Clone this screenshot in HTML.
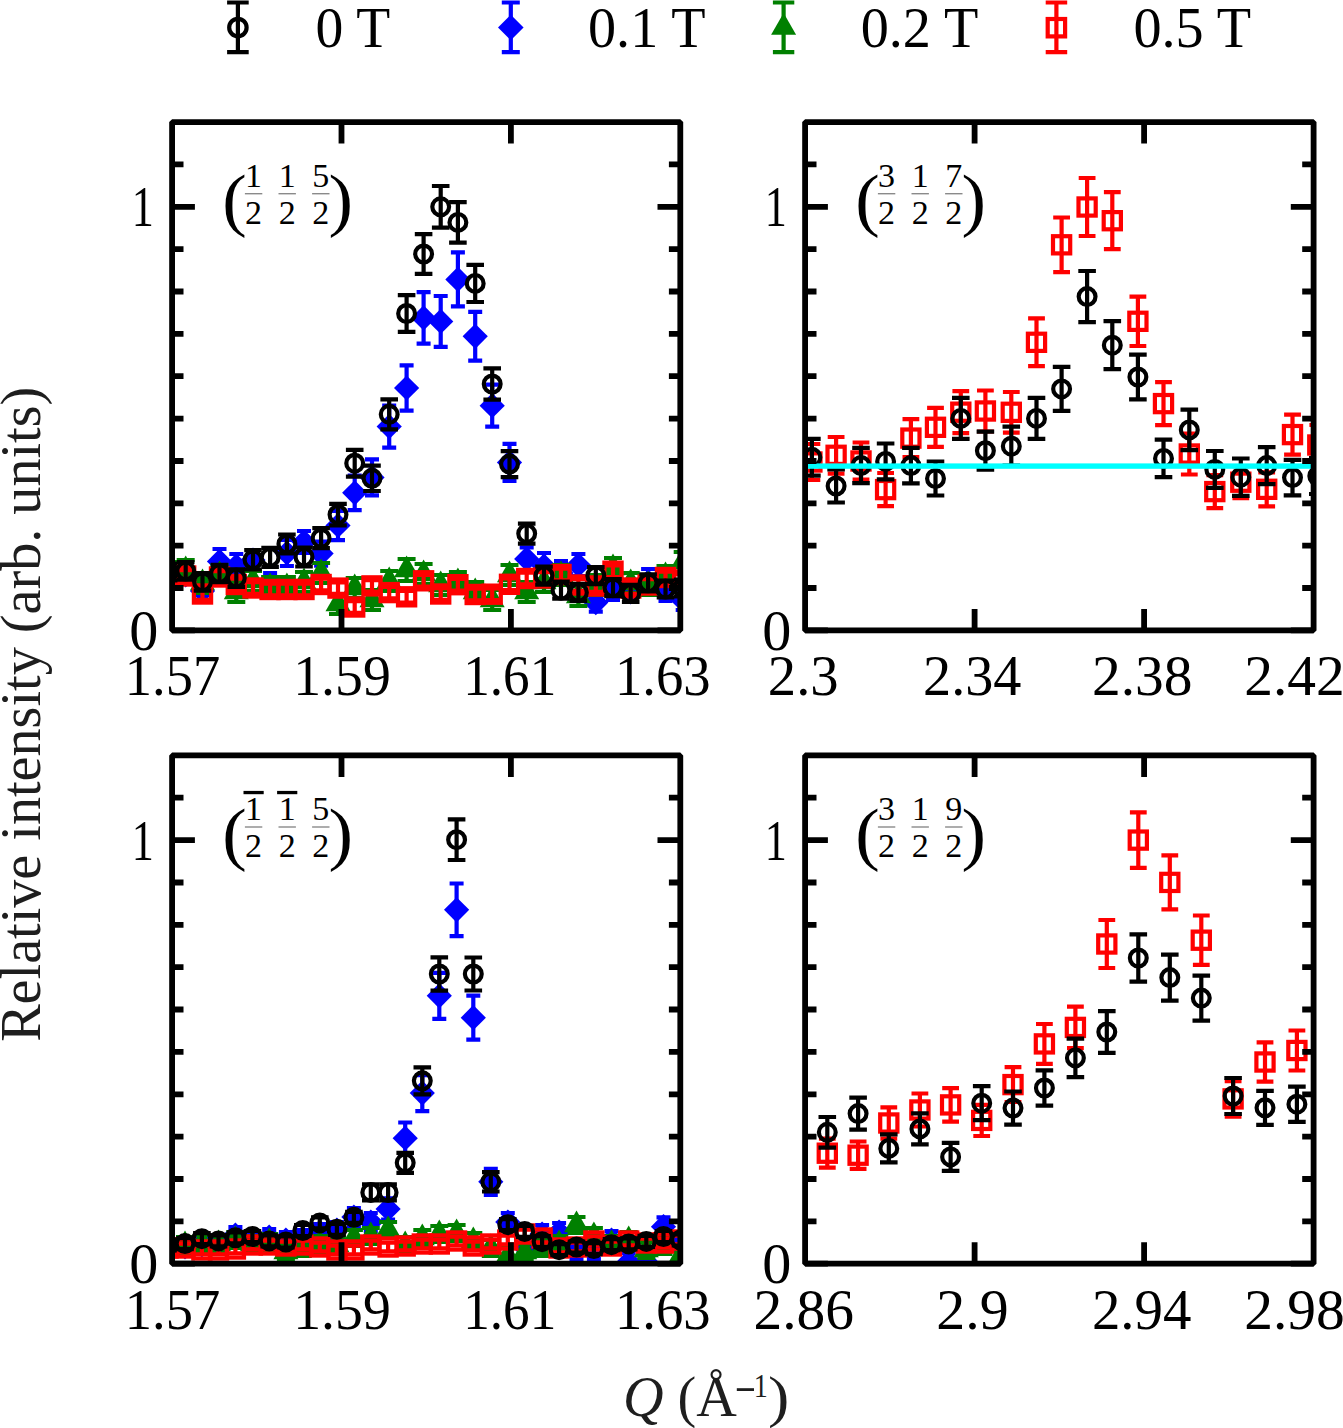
<!DOCTYPE html>
<html><head><meta charset="utf-8"><style>
html,body{margin:0;padding:0;background:#fff;overflow:hidden;}
svg{display:block;}
text{font-family:"Liberation Serif",serif;fill:#000;}
.tl{font-size:57px;}
.fr{font-size:34px;}
.par{font-size:70px;}
.ax{font-size:57px;fill:#1e1e1e;}
</style></head><body>
<svg width="1343" height="1428" viewBox="0 0 1343 1428">
<rect width="1343" height="1428" fill="#fff"/>

<clipPath id="cTL"><rect x="172.1" y="122.1" width="508.2" height="508.3"/></clipPath>
<g clip-path="url(#cTL)">
<path d="M168.6 566V584M161.6 566H175.6M161.6 584H175.6" stroke="#0000ff" stroke-width="4.2" fill="none"/>
<path d="M156 575L168.6 562.4L181.2 575L168.6 587.6Z" fill="#0000ff"/>
<path d="M185.7 566V584M178.7 566H192.7M178.7 584H192.7" stroke="#0000ff" stroke-width="4.2" fill="none"/>
<path d="M173.1 575L185.7 562.4L198.3 575L185.7 587.6Z" fill="#0000ff"/>
<path d="M202.5 582V600M195.5 582H209.5M195.5 600H209.5" stroke="#0000ff" stroke-width="4.2" fill="none"/>
<path d="M189.9 591L202.5 578.4L215.1 591L202.5 603.6Z" fill="#0000ff"/>
<path d="M219.5 549V573.8M212.5 549H226.5M212.5 573.8H226.5" stroke="#0000ff" stroke-width="4.2" fill="none"/>
<path d="M206.9 561.4L219.5 548.8L232.1 561.4L219.5 574Z" fill="#0000ff"/>
<path d="M236.3 554V578M229.3 554H243.3M229.3 578H243.3" stroke="#0000ff" stroke-width="4.2" fill="none"/>
<path d="M223.7 566L236.3 553.4L248.9 566L236.3 578.6Z" fill="#0000ff"/>
<path d="M253 550V570M246 550H260M246 570H260" stroke="#0000ff" stroke-width="4.2" fill="none"/>
<path d="M240.4 560L253 547.4L265.6 560L253 572.6Z" fill="#0000ff"/>
<path d="M270.1 573V597M263.1 573H277.1M263.1 597H277.1" stroke="#0000ff" stroke-width="4.2" fill="none"/>
<path d="M257.5 585L270.1 572.4L282.7 585L270.1 597.6Z" fill="#0000ff"/>
<path d="M286.9 540V566M279.9 540H293.9M279.9 566H293.9" stroke="#0000ff" stroke-width="4.2" fill="none"/>
<path d="M274.3 553L286.9 540.4L299.5 553L286.9 565.6Z" fill="#0000ff"/>
<path d="M304 531V553M297 531H311M297 553H311" stroke="#0000ff" stroke-width="4.2" fill="none"/>
<path d="M291.4 542L304 529.4L316.6 542L304 554.6Z" fill="#0000ff"/>
<path d="M321.1 541.6V565.6M314.1 541.6H328.1M314.1 565.6H328.1" stroke="#0000ff" stroke-width="4.2" fill="none"/>
<path d="M308.5 553.6L321.1 541L333.7 553.6L321.1 566.2Z" fill="#0000ff"/>
<path d="M338 510.8V540.2M331 510.8H345M331 540.2H345" stroke="#0000ff" stroke-width="4.2" fill="none"/>
<path d="M325.4 525.5L338 512.9L350.6 525.5L338 538.1Z" fill="#0000ff"/>
<path d="M354.7 475.5V510.1M347.7 475.5H361.7M347.7 510.1H361.7" stroke="#0000ff" stroke-width="4.2" fill="none"/>
<path d="M342.1 492.8L354.7 480.2L367.3 492.8L354.7 505.4Z" fill="#0000ff"/>
<path d="M372 459.4V495.4M365 459.4H379M365 495.4H379" stroke="#0000ff" stroke-width="4.2" fill="none"/>
<path d="M359.4 477.4L372 464.8L384.6 477.4L372 490Z" fill="#0000ff"/>
<path d="M389.2 405.6V447.6M382.2 405.6H396.2M382.2 447.6H396.2" stroke="#0000ff" stroke-width="4.2" fill="none"/>
<path d="M376.6 426.6L389.2 414L401.8 426.6L389.2 439.2Z" fill="#0000ff"/>
<path d="M406.6 365.4V410.6M399.6 365.4H413.6M399.6 410.6H413.6" stroke="#0000ff" stroke-width="4.2" fill="none"/>
<path d="M394 388L406.6 375.4L419.2 388L406.6 400.6Z" fill="#0000ff"/>
<path d="M423.6 292.1V343.7M416.6 292.1H430.6M416.6 343.7H430.6" stroke="#0000ff" stroke-width="4.2" fill="none"/>
<path d="M411 317.9L423.6 305.3L436.2 317.9L423.6 330.5Z" fill="#0000ff"/>
<path d="M440.7 296V346.8M433.7 296H447.7M433.7 346.8H447.7" stroke="#0000ff" stroke-width="4.2" fill="none"/>
<path d="M428.1 321.4L440.7 308.8L453.3 321.4L440.7 334Z" fill="#0000ff"/>
<path d="M457.9 252.4V306.4M450.9 252.4H464.9M450.9 306.4H464.9" stroke="#0000ff" stroke-width="4.2" fill="none"/>
<path d="M445.3 279.4L457.9 266.8L470.5 279.4L457.9 292Z" fill="#0000ff"/>
<path d="M475.2 311.9V360.7M468.2 311.9H482.2M468.2 360.7H482.2" stroke="#0000ff" stroke-width="4.2" fill="none"/>
<path d="M462.6 336.3L475.2 323.7L487.8 336.3L475.2 348.9Z" fill="#0000ff"/>
<path d="M492.2 384.7V426.7M485.2 384.7H499.2M485.2 426.7H499.2" stroke="#0000ff" stroke-width="4.2" fill="none"/>
<path d="M479.6 405.7L492.2 393.1L504.8 405.7L492.2 418.3Z" fill="#0000ff"/>
<path d="M509.5 443.9V480.9M502.5 443.9H516.5M502.5 480.9H516.5" stroke="#0000ff" stroke-width="4.2" fill="none"/>
<path d="M496.9 462.4L509.5 449.8L522.1 462.4L509.5 475Z" fill="#0000ff"/>
<path d="M526.7 547.4V570.4M519.7 547.4H533.7M519.7 570.4H533.7" stroke="#0000ff" stroke-width="4.2" fill="none"/>
<path d="M514.1 558.9L526.7 546.3L539.3 558.9L526.7 571.5Z" fill="#0000ff"/>
<path d="M544 553V579M537 553H551M537 579H551" stroke="#0000ff" stroke-width="4.2" fill="none"/>
<path d="M531.4 566L544 553.4L556.6 566L544 578.6Z" fill="#0000ff"/>
<path d="M561 561V585M554 561H568M554 585H568" stroke="#0000ff" stroke-width="4.2" fill="none"/>
<path d="M548.4 573L561 560.4L573.6 573L561 585.6Z" fill="#0000ff"/>
<path d="M578.4 554V576M571.4 554H585.4M571.4 576H585.4" stroke="#0000ff" stroke-width="4.2" fill="none"/>
<path d="M565.8 565L578.4 552.4L591 565L578.4 577.6Z" fill="#0000ff"/>
<path d="M595.8 593.6V611.6M588.8 593.6H602.8M588.8 611.6H602.8" stroke="#0000ff" stroke-width="4.2" fill="none"/>
<path d="M583.2 602.6L595.8 590L608.4 602.6L595.8 615.2Z" fill="#0000ff"/>
<path d="M613 576V600M606 576H620M606 600H620" stroke="#0000ff" stroke-width="4.2" fill="none"/>
<path d="M600.4 588L613 575.4L625.6 588L613 600.6Z" fill="#0000ff"/>
<path d="M630.7 582V602M623.7 582H637.7M623.7 602H637.7" stroke="#0000ff" stroke-width="4.2" fill="none"/>
<path d="M618.1 592L630.7 579.4L643.3 592L630.7 604.6Z" fill="#0000ff"/>
<path d="M648.1 569V595M641.1 569H655.1M641.1 595H655.1" stroke="#0000ff" stroke-width="4.2" fill="none"/>
<path d="M635.5 582L648.1 569.4L660.7 582L648.1 594.6Z" fill="#0000ff"/>
<path d="M665.5 579V601M658.5 579H672.5M658.5 601H672.5" stroke="#0000ff" stroke-width="4.2" fill="none"/>
<path d="M652.9 590L665.5 577.4L678.1 590L665.5 602.6Z" fill="#0000ff"/>
<path d="M682.7 590V610M675.7 590H689.7M675.7 610H689.7" stroke="#0000ff" stroke-width="4.2" fill="none"/>
<path d="M670.1 600L682.7 587.4L695.3 600L682.7 612.6Z" fill="#0000ff"/>
<path d="M168.6 562V582M159.6 562H177.6M159.6 582H177.6" stroke="#008000" stroke-width="4.2" fill="none"/>
<path d="M156.1 579.2L168.6 557.6L181.1 579.2Z" fill="#008000"/>
<path d="M185.7 560V580M176.7 560H194.7M176.7 580H194.7" stroke="#008000" stroke-width="4.2" fill="none"/>
<path d="M173.2 577.2L185.7 555.6L198.2 577.2Z" fill="#008000"/>
<path d="M202.5 573V593M193.5 573H211.5M193.5 593H211.5" stroke="#008000" stroke-width="4.2" fill="none"/>
<path d="M190 590.2L202.5 568.6L215 590.2Z" fill="#008000"/>
<path d="M219.5 565V585M210.5 565H228.5M210.5 585H228.5" stroke="#008000" stroke-width="4.2" fill="none"/>
<path d="M207 582.2L219.5 560.6L232 582.2Z" fill="#008000"/>
<path d="M236.3 582V602M227.3 582H245.3M227.3 602H245.3" stroke="#008000" stroke-width="4.2" fill="none"/>
<path d="M223.8 599.2L236.3 577.6L248.8 599.2Z" fill="#008000"/>
<path d="M253 571V591M244 571H262M244 591H262" stroke="#008000" stroke-width="4.2" fill="none"/>
<path d="M240.5 588.2L253 566.6L265.5 588.2Z" fill="#008000"/>
<path d="M270.1 577V597M261.1 577H279.1M261.1 597H279.1" stroke="#008000" stroke-width="4.2" fill="none"/>
<path d="M257.6 594.2L270.1 572.6L282.6 594.2Z" fill="#008000"/>
<path d="M286.9 577V597M277.9 577H295.9M277.9 597H295.9" stroke="#008000" stroke-width="4.2" fill="none"/>
<path d="M274.4 594.2L286.9 572.6L299.4 594.2Z" fill="#008000"/>
<path d="M304 572V592M295 572H313M295 592H313" stroke="#008000" stroke-width="4.2" fill="none"/>
<path d="M291.5 589.2L304 567.6L316.5 589.2Z" fill="#008000"/>
<path d="M321.1 563V583M312.1 563H330.1M312.1 583H330.1" stroke="#008000" stroke-width="4.2" fill="none"/>
<path d="M308.6 580.2L321.1 558.6L333.6 580.2Z" fill="#008000"/>
<path d="M338 594V614M329 594H347M329 614H347" stroke="#008000" stroke-width="4.2" fill="none"/>
<path d="M325.5 611.2L338 589.6L350.5 611.2Z" fill="#008000"/>
<path d="M354.7 578V598M345.7 578H363.7M345.7 598H363.7" stroke="#008000" stroke-width="4.2" fill="none"/>
<path d="M342.2 595.2L354.7 573.6L367.2 595.2Z" fill="#008000"/>
<path d="M372 590V610M363 590H381M363 610H381" stroke="#008000" stroke-width="4.2" fill="none"/>
<path d="M359.5 607.2L372 585.6L384.5 607.2Z" fill="#008000"/>
<path d="M389.2 571V591M380.2 571H398.2M380.2 591H398.2" stroke="#008000" stroke-width="4.2" fill="none"/>
<path d="M376.7 588.2L389.2 566.6L401.7 588.2Z" fill="#008000"/>
<path d="M406.6 559V581M397.6 559H415.6M397.6 581H415.6" stroke="#008000" stroke-width="4.2" fill="none"/>
<path d="M394.1 577.2L406.6 555.6L419.1 577.2Z" fill="#008000"/>
<path d="M423.6 564V584M414.6 564H432.6M414.6 584H432.6" stroke="#008000" stroke-width="4.2" fill="none"/>
<path d="M411.1 581.2L423.6 559.6L436.1 581.2Z" fill="#008000"/>
<path d="M440.7 575V595M431.7 575H449.7M431.7 595H449.7" stroke="#008000" stroke-width="4.2" fill="none"/>
<path d="M428.2 592.2L440.7 570.6L453.2 592.2Z" fill="#008000"/>
<path d="M457.9 572V592M448.9 572H466.9M448.9 592H466.9" stroke="#008000" stroke-width="4.2" fill="none"/>
<path d="M445.4 589.2L457.9 567.6L470.4 589.2Z" fill="#008000"/>
<path d="M475.2 582V602M466.2 582H484.2M466.2 602H484.2" stroke="#008000" stroke-width="4.2" fill="none"/>
<path d="M462.7 599.2L475.2 577.6L487.7 599.2Z" fill="#008000"/>
<path d="M492.2 590V610M483.2 590H501.2M483.2 610H501.2" stroke="#008000" stroke-width="4.2" fill="none"/>
<path d="M479.7 607.2L492.2 585.6L504.7 607.2Z" fill="#008000"/>
<path d="M509.5 565V585M500.5 565H518.5M500.5 585H518.5" stroke="#008000" stroke-width="4.2" fill="none"/>
<path d="M497 582.2L509.5 560.6L522 582.2Z" fill="#008000"/>
<path d="M526.7 582V602M517.7 582H535.7M517.7 602H535.7" stroke="#008000" stroke-width="4.2" fill="none"/>
<path d="M514.2 599.2L526.7 577.6L539.2 599.2Z" fill="#008000"/>
<path d="M544 572V592M535 572H553M535 592H553" stroke="#008000" stroke-width="4.2" fill="none"/>
<path d="M531.5 589.2L544 567.6L556.5 589.2Z" fill="#008000"/>
<path d="M561 565V585M552 565H570M552 585H570" stroke="#008000" stroke-width="4.2" fill="none"/>
<path d="M548.5 582.2L561 560.6L573.5 582.2Z" fill="#008000"/>
<path d="M578.4 586V606M569.4 586H587.4M569.4 606H587.4" stroke="#008000" stroke-width="4.2" fill="none"/>
<path d="M565.9 603.2L578.4 581.6L590.9 603.2Z" fill="#008000"/>
<path d="M595.8 575V595M586.8 575H604.8M586.8 595H604.8" stroke="#008000" stroke-width="4.2" fill="none"/>
<path d="M583.3 592.2L595.8 570.6L608.3 592.2Z" fill="#008000"/>
<path d="M613 558V578M604 558H622M604 578H622" stroke="#008000" stroke-width="4.2" fill="none"/>
<path d="M600.5 575.2L613 553.6L625.5 575.2Z" fill="#008000"/>
<path d="M630.7 573V593M621.7 573H639.7M621.7 593H639.7" stroke="#008000" stroke-width="4.2" fill="none"/>
<path d="M618.2 590.2L630.7 568.6L643.2 590.2Z" fill="#008000"/>
<path d="M648.1 575V595M639.1 575H657.1M639.1 595H657.1" stroke="#008000" stroke-width="4.2" fill="none"/>
<path d="M635.6 592.2L648.1 570.6L660.6 592.2Z" fill="#008000"/>
<path d="M665.5 566V586M656.5 566H674.5M656.5 586H674.5" stroke="#008000" stroke-width="4.2" fill="none"/>
<path d="M653 583.2L665.5 561.6L678 583.2Z" fill="#008000"/>
<path d="M682.7 552V572M673.7 552H691.7M673.7 572H691.7" stroke="#008000" stroke-width="4.2" fill="none"/>
<path d="M670.2 569.2L682.7 547.6L695.2 569.2Z" fill="#008000"/>
<path d="M168.6 569.2V580.8M160.2 569.2H177M160.2 580.8H177" stroke="#ff0000" stroke-width="4.2" fill="none"/>
<rect x="160" y="566.4" width="17.2" height="17.2" fill="none" stroke="#ff0000" stroke-width="4.2"/>
<path d="M185.7 570.2V581.8M177.3 570.2H194.1M177.3 581.8H194.1" stroke="#ff0000" stroke-width="4.2" fill="none"/>
<rect x="177.1" y="567.4" width="17.2" height="17.2" fill="none" stroke="#ff0000" stroke-width="4.2"/>
<path d="M202.5 588.2V599.8M194.1 588.2H210.9M194.1 599.8H210.9" stroke="#ff0000" stroke-width="4.2" fill="none"/>
<rect x="193.9" y="585.4" width="17.2" height="17.2" fill="none" stroke="#ff0000" stroke-width="4.2"/>
<path d="M219.5 571.2V582.8M211.1 571.2H227.9M211.1 582.8H227.9" stroke="#ff0000" stroke-width="4.2" fill="none"/>
<rect x="210.9" y="568.4" width="17.2" height="17.2" fill="none" stroke="#ff0000" stroke-width="4.2"/>
<path d="M236.3 578.7V590.3M227.9 578.7H244.7M227.9 590.3H244.7" stroke="#ff0000" stroke-width="4.2" fill="none"/>
<rect x="227.7" y="575.9" width="17.2" height="17.2" fill="none" stroke="#ff0000" stroke-width="4.2"/>
<path d="M253 582.2V593.8M244.6 582.2H261.4M244.6 593.8H261.4" stroke="#ff0000" stroke-width="4.2" fill="none"/>
<rect x="244.4" y="579.4" width="17.2" height="17.2" fill="none" stroke="#ff0000" stroke-width="4.2"/>
<path d="M270.1 583.7V595.3M261.7 583.7H278.5M261.7 595.3H278.5" stroke="#ff0000" stroke-width="4.2" fill="none"/>
<rect x="261.5" y="580.9" width="17.2" height="17.2" fill="none" stroke="#ff0000" stroke-width="4.2"/>
<path d="M286.9 583.7V595.3M278.5 583.7H295.3M278.5 595.3H295.3" stroke="#ff0000" stroke-width="4.2" fill="none"/>
<rect x="278.3" y="580.9" width="17.2" height="17.2" fill="none" stroke="#ff0000" stroke-width="4.2"/>
<path d="M304 583.7V595.3M295.6 583.7H312.4M295.6 595.3H312.4" stroke="#ff0000" stroke-width="4.2" fill="none"/>
<rect x="295.4" y="580.9" width="17.2" height="17.2" fill="none" stroke="#ff0000" stroke-width="4.2"/>
<path d="M321.1 578.7V590.3M312.7 578.7H329.5M312.7 590.3H329.5" stroke="#ff0000" stroke-width="4.2" fill="none"/>
<rect x="312.5" y="575.9" width="17.2" height="17.2" fill="none" stroke="#ff0000" stroke-width="4.2"/>
<path d="M338 582.3V593.9M329.6 582.3H346.4M329.6 593.9H346.4" stroke="#ff0000" stroke-width="4.2" fill="none"/>
<rect x="329.4" y="579.5" width="17.2" height="17.2" fill="none" stroke="#ff0000" stroke-width="4.2"/>
<path d="M354.7 601.2V612.8M346.3 601.2H363.1M346.3 612.8H363.1" stroke="#ff0000" stroke-width="4.2" fill="none"/>
<rect x="346.1" y="598.4" width="17.2" height="17.2" fill="none" stroke="#ff0000" stroke-width="4.2"/>
<path d="M372 580.1V591.7M363.6 580.1H380.4M363.6 591.7H380.4" stroke="#ff0000" stroke-width="4.2" fill="none"/>
<rect x="363.4" y="577.3" width="17.2" height="17.2" fill="none" stroke="#ff0000" stroke-width="4.2"/>
<path d="M389.2 586.8V598.4M380.8 586.8H397.6M380.8 598.4H397.6" stroke="#ff0000" stroke-width="4.2" fill="none"/>
<rect x="380.6" y="584" width="17.2" height="17.2" fill="none" stroke="#ff0000" stroke-width="4.2"/>
<path d="M406.6 591V602.6M398.2 591H415M398.2 602.6H415" stroke="#ff0000" stroke-width="4.2" fill="none"/>
<rect x="398" y="588.2" width="17.2" height="17.2" fill="none" stroke="#ff0000" stroke-width="4.2"/>
<path d="M423.6 575V586.6M415.2 575H432M415.2 586.6H432" stroke="#ff0000" stroke-width="4.2" fill="none"/>
<rect x="415" y="572.2" width="17.2" height="17.2" fill="none" stroke="#ff0000" stroke-width="4.2"/>
<path d="M440.7 588.2V599.8M432.3 588.2H449.1M432.3 599.8H449.1" stroke="#ff0000" stroke-width="4.2" fill="none"/>
<rect x="432.1" y="585.4" width="17.2" height="17.2" fill="none" stroke="#ff0000" stroke-width="4.2"/>
<path d="M457.9 578.9V590.5M449.5 578.9H466.3M449.5 590.5H466.3" stroke="#ff0000" stroke-width="4.2" fill="none"/>
<rect x="449.3" y="576.1" width="17.2" height="17.2" fill="none" stroke="#ff0000" stroke-width="4.2"/>
<path d="M475.2 588.7V600.3M466.8 588.7H483.6M466.8 600.3H483.6" stroke="#ff0000" stroke-width="4.2" fill="none"/>
<rect x="466.6" y="585.9" width="17.2" height="17.2" fill="none" stroke="#ff0000" stroke-width="4.2"/>
<path d="M492.2 588.4V600M483.8 588.4H500.6M483.8 600H500.6" stroke="#ff0000" stroke-width="4.2" fill="none"/>
<rect x="483.6" y="585.6" width="17.2" height="17.2" fill="none" stroke="#ff0000" stroke-width="4.2"/>
<path d="M509.5 578.5V590.1M501.1 578.5H517.9M501.1 590.1H517.9" stroke="#ff0000" stroke-width="4.2" fill="none"/>
<rect x="500.9" y="575.7" width="17.2" height="17.2" fill="none" stroke="#ff0000" stroke-width="4.2"/>
<path d="M526.7 572.7V584.3M518.3 572.7H535.1M518.3 584.3H535.1" stroke="#ff0000" stroke-width="4.2" fill="none"/>
<rect x="518.1" y="569.9" width="17.2" height="17.2" fill="none" stroke="#ff0000" stroke-width="4.2"/>
<path d="M544 572.2V583.8M535.6 572.2H552.4M535.6 583.8H552.4" stroke="#ff0000" stroke-width="4.2" fill="none"/>
<rect x="535.4" y="569.4" width="17.2" height="17.2" fill="none" stroke="#ff0000" stroke-width="4.2"/>
<path d="M561 568.7V580.3M552.6 568.7H569.4M552.6 580.3H569.4" stroke="#ff0000" stroke-width="4.2" fill="none"/>
<rect x="552.4" y="565.9" width="17.2" height="17.2" fill="none" stroke="#ff0000" stroke-width="4.2"/>
<path d="M578.4 579.2V590.8M570 579.2H586.8M570 590.8H586.8" stroke="#ff0000" stroke-width="4.2" fill="none"/>
<rect x="569.8" y="576.4" width="17.2" height="17.2" fill="none" stroke="#ff0000" stroke-width="4.2"/>
<path d="M595.8 580.2V591.8M587.4 580.2H604.2M587.4 591.8H604.2" stroke="#ff0000" stroke-width="4.2" fill="none"/>
<rect x="587.2" y="577.4" width="17.2" height="17.2" fill="none" stroke="#ff0000" stroke-width="4.2"/>
<path d="M613 565.4V577M604.6 565.4H621.4M604.6 577H621.4" stroke="#ff0000" stroke-width="4.2" fill="none"/>
<rect x="604.4" y="562.6" width="17.2" height="17.2" fill="none" stroke="#ff0000" stroke-width="4.2"/>
<path d="M630.7 582.2V593.8M622.3 582.2H639.1M622.3 593.8H639.1" stroke="#ff0000" stroke-width="4.2" fill="none"/>
<rect x="622.1" y="579.4" width="17.2" height="17.2" fill="none" stroke="#ff0000" stroke-width="4.2"/>
<path d="M648.1 579.2V590.8M639.7 579.2H656.5M639.7 590.8H656.5" stroke="#ff0000" stroke-width="4.2" fill="none"/>
<rect x="639.5" y="576.4" width="17.2" height="17.2" fill="none" stroke="#ff0000" stroke-width="4.2"/>
<path d="M665.5 571.7V583.3M657.1 571.7H673.9M657.1 583.3H673.9" stroke="#ff0000" stroke-width="4.2" fill="none"/>
<rect x="656.9" y="568.9" width="17.2" height="17.2" fill="none" stroke="#ff0000" stroke-width="4.2"/>
<path d="M682.7 574.2V585.8M674.3 574.2H691.1M674.3 585.8H691.1" stroke="#ff0000" stroke-width="4.2" fill="none"/>
<rect x="674.1" y="571.4" width="17.2" height="17.2" fill="none" stroke="#ff0000" stroke-width="4.2"/>
<path d="M168.6 563.5V580.5M159.8 563.5H177.4M159.8 580.5H177.4" stroke="#000000" stroke-width="4.2" fill="none"/>
<circle cx="168.6" cy="572" r="8.4" fill="none" stroke="#000000" stroke-width="4.2"/>
<path d="M185.7 562.1V579.7M176.9 562.1H194.5M176.9 579.7H194.5" stroke="#000000" stroke-width="4.2" fill="none"/>
<circle cx="185.7" cy="570.9" r="8.4" fill="none" stroke="#000000" stroke-width="4.2"/>
<path d="M202.5 573V590.6M193.7 573H211.3M193.7 590.6H211.3" stroke="#000000" stroke-width="4.2" fill="none"/>
<circle cx="202.5" cy="581.8" r="8.4" fill="none" stroke="#000000" stroke-width="4.2"/>
<path d="M219.5 564.8V582.2M210.7 564.8H228.3M210.7 582.2H228.3" stroke="#000000" stroke-width="4.2" fill="none"/>
<circle cx="219.5" cy="573.5" r="8.4" fill="none" stroke="#000000" stroke-width="4.2"/>
<path d="M236.3 569.3V586.9M227.5 569.3H245.1M227.5 586.9H245.1" stroke="#000000" stroke-width="4.2" fill="none"/>
<circle cx="236.3" cy="578.1" r="8.4" fill="none" stroke="#000000" stroke-width="4.2"/>
<path d="M253 550.1V569.5M244.2 550.1H261.8M244.2 569.5H261.8" stroke="#000000" stroke-width="4.2" fill="none"/>
<circle cx="253" cy="559.8" r="8.4" fill="none" stroke="#000000" stroke-width="4.2"/>
<path d="M270.1 547.9V566.9M261.3 547.9H278.9M261.3 566.9H278.9" stroke="#000000" stroke-width="4.2" fill="none"/>
<circle cx="270.1" cy="557.4" r="8.4" fill="none" stroke="#000000" stroke-width="4.2"/>
<path d="M286.9 534.5V553.5M278.1 534.5H295.7M278.1 553.5H295.7" stroke="#000000" stroke-width="4.2" fill="none"/>
<circle cx="286.9" cy="544" r="8.4" fill="none" stroke="#000000" stroke-width="4.2"/>
<path d="M304 547.5V566.5M295.2 547.5H312.8M295.2 566.5H312.8" stroke="#000000" stroke-width="4.2" fill="none"/>
<circle cx="304" cy="557" r="8.4" fill="none" stroke="#000000" stroke-width="4.2"/>
<path d="M321.1 528.2V548.2M312.3 528.2H329.9M312.3 548.2H329.9" stroke="#000000" stroke-width="4.2" fill="none"/>
<circle cx="321.1" cy="538.2" r="8.4" fill="none" stroke="#000000" stroke-width="4.2"/>
<path d="M338 503.9V525.3M329.2 503.9H346.8M329.2 525.3H346.8" stroke="#000000" stroke-width="4.2" fill="none"/>
<circle cx="338" cy="514.6" r="8.4" fill="none" stroke="#000000" stroke-width="4.2"/>
<path d="M354.7 449.8V476.6M345.9 449.8H363.5M345.9 476.6H363.5" stroke="#000000" stroke-width="4.2" fill="none"/>
<circle cx="354.7" cy="463.2" r="8.4" fill="none" stroke="#000000" stroke-width="4.2"/>
<path d="M372 465.6V491M363.2 465.6H380.8M363.2 491H380.8" stroke="#000000" stroke-width="4.2" fill="none"/>
<circle cx="372" cy="478.3" r="8.4" fill="none" stroke="#000000" stroke-width="4.2"/>
<path d="M389.2 399.3V429.3M380.4 399.3H398M380.4 429.3H398" stroke="#000000" stroke-width="4.2" fill="none"/>
<circle cx="389.2" cy="414.3" r="8.4" fill="none" stroke="#000000" stroke-width="4.2"/>
<path d="M406.6 295.1V331.9M397.8 295.1H415.4M397.8 331.9H415.4" stroke="#000000" stroke-width="4.2" fill="none"/>
<circle cx="406.6" cy="313.5" r="8.4" fill="none" stroke="#000000" stroke-width="4.2"/>
<path d="M423.6 234.1V273.9M414.8 234.1H432.4M414.8 273.9H432.4" stroke="#000000" stroke-width="4.2" fill="none"/>
<circle cx="423.6" cy="254" r="8.4" fill="none" stroke="#000000" stroke-width="4.2"/>
<path d="M440.7 186V227.6M431.9 186H449.5M431.9 227.6H449.5" stroke="#000000" stroke-width="4.2" fill="none"/>
<circle cx="440.7" cy="206.8" r="8.4" fill="none" stroke="#000000" stroke-width="4.2"/>
<path d="M457.9 202.1V242.7M449.1 202.1H466.7M449.1 242.7H466.7" stroke="#000000" stroke-width="4.2" fill="none"/>
<circle cx="457.9" cy="222.4" r="8.4" fill="none" stroke="#000000" stroke-width="4.2"/>
<path d="M475.2 264.8V302M466.4 264.8H484M466.4 302H484" stroke="#000000" stroke-width="4.2" fill="none"/>
<circle cx="475.2" cy="283.4" r="8.4" fill="none" stroke="#000000" stroke-width="4.2"/>
<path d="M492.2 368.3V399.7M483.4 368.3H501M483.4 399.7H501" stroke="#000000" stroke-width="4.2" fill="none"/>
<circle cx="492.2" cy="384" r="8.4" fill="none" stroke="#000000" stroke-width="4.2"/>
<path d="M509.5 451.1V477.1M500.7 451.1H518.3M500.7 477.1H518.3" stroke="#000000" stroke-width="4.2" fill="none"/>
<circle cx="509.5" cy="464.1" r="8.4" fill="none" stroke="#000000" stroke-width="4.2"/>
<path d="M526.7 523.6V543.6M517.9 523.6H535.5M517.9 543.6H535.5" stroke="#000000" stroke-width="4.2" fill="none"/>
<circle cx="526.7" cy="533.6" r="8.4" fill="none" stroke="#000000" stroke-width="4.2"/>
<path d="M544 566.6V584.6M535.2 566.6H552.8M535.2 584.6H552.8" stroke="#000000" stroke-width="4.2" fill="none"/>
<circle cx="544" cy="575.6" r="8.4" fill="none" stroke="#000000" stroke-width="4.2"/>
<path d="M561 581.7V598.7M552.2 581.7H569.8M552.2 598.7H569.8" stroke="#000000" stroke-width="4.2" fill="none"/>
<circle cx="561" cy="590.2" r="8.4" fill="none" stroke="#000000" stroke-width="4.2"/>
<path d="M578.4 583.9V600.9M569.6 583.9H587.2M569.6 600.9H587.2" stroke="#000000" stroke-width="4.2" fill="none"/>
<circle cx="578.4" cy="592.4" r="8.4" fill="none" stroke="#000000" stroke-width="4.2"/>
<path d="M595.8 567.2V584.2M587 567.2H604.6M587 584.2H604.6" stroke="#000000" stroke-width="4.2" fill="none"/>
<circle cx="595.8" cy="575.7" r="8.4" fill="none" stroke="#000000" stroke-width="4.2"/>
<path d="M613 579.2V596.2M604.2 579.2H621.8M604.2 596.2H621.8" stroke="#000000" stroke-width="4.2" fill="none"/>
<circle cx="613" cy="587.7" r="8.4" fill="none" stroke="#000000" stroke-width="4.2"/>
<path d="M630.7 584.9V601.9M621.9 584.9H639.5M621.9 601.9H639.5" stroke="#000000" stroke-width="4.2" fill="none"/>
<circle cx="630.7" cy="593.4" r="8.4" fill="none" stroke="#000000" stroke-width="4.2"/>
<path d="M648.1 574.3V591.3M639.3 574.3H656.9M639.3 591.3H656.9" stroke="#000000" stroke-width="4.2" fill="none"/>
<circle cx="648.1" cy="582.8" r="8.4" fill="none" stroke="#000000" stroke-width="4.2"/>
<path d="M665.5 580.5V597.5M656.7 580.5H674.3M656.7 597.5H674.3" stroke="#000000" stroke-width="4.2" fill="none"/>
<circle cx="665.5" cy="589" r="8.4" fill="none" stroke="#000000" stroke-width="4.2"/>
<path d="M682.7 579.5V596.5M673.9 579.5H691.5M673.9 596.5H691.5" stroke="#000000" stroke-width="4.2" fill="none"/>
<circle cx="682.7" cy="588" r="8.4" fill="none" stroke="#000000" stroke-width="4.2"/>
</g>
<path d="M341.5 630.4V608.9M341.5 122.1V143.6M510.9 630.4V608.9M510.9 122.1V143.6M172.1 630.4H194.9M680.3 630.4H657.5M172.1 206.8H194.9M680.3 206.8H657.5M172.1 588H183.5M680.3 588H668.9M172.1 545.7H183.5M680.3 545.7H668.9M172.1 503.3H183.5M680.3 503.3H668.9M172.1 461H183.5M680.3 461H668.9M172.1 418.6H183.5M680.3 418.6H668.9M172.1 376.2H183.5M680.3 376.2H668.9M172.1 333.9H183.5M680.3 333.9H668.9M172.1 291.5H183.5M680.3 291.5H668.9M172.1 249.2H183.5M680.3 249.2H668.9M172.1 164.4H183.5M680.3 164.4H668.9" stroke="#000" stroke-width="5.8" fill="none"/>
<rect x="172.1" y="122.1" width="508.2" height="508.3" fill="none" stroke="#000" stroke-width="5.8" stroke-linejoin="bevel"/>

<clipPath id="cTR"><rect x="805.1" y="122.1" width="508.5" height="508.3"/></clipPath>
<g clip-path="url(#cTR)">
<path d="M811.9 444V480M803.5 444H820.3M803.5 480H820.3" stroke="#ff0000" stroke-width="4.2" fill="none"/>
<rect x="803.3" y="453.4" width="17.2" height="17.2" fill="none" stroke="#ff0000" stroke-width="4.2"/>
<path d="M836.1 437V473.6M827.7 437H844.5M827.7 473.6H844.5" stroke="#ff0000" stroke-width="4.2" fill="none"/>
<rect x="827.5" y="446.7" width="17.2" height="17.2" fill="none" stroke="#ff0000" stroke-width="4.2"/>
<path d="M861 442.5V479.5M852.6 442.5H869.4M852.6 479.5H869.4" stroke="#ff0000" stroke-width="4.2" fill="none"/>
<rect x="852.4" y="452.4" width="17.2" height="17.2" fill="none" stroke="#ff0000" stroke-width="4.2"/>
<path d="M885.6 473V506.2M877.2 473H894M877.2 506.2H894" stroke="#ff0000" stroke-width="4.2" fill="none"/>
<rect x="877" y="481" width="17.2" height="17.2" fill="none" stroke="#ff0000" stroke-width="4.2"/>
<path d="M910.9 419.1V457.1M902.5 419.1H919.3M902.5 457.1H919.3" stroke="#ff0000" stroke-width="4.2" fill="none"/>
<rect x="902.3" y="429.5" width="17.2" height="17.2" fill="none" stroke="#ff0000" stroke-width="4.2"/>
<path d="M935.5 407.8V446.8M927.1 407.8H943.9M927.1 446.8H943.9" stroke="#ff0000" stroke-width="4.2" fill="none"/>
<rect x="926.9" y="418.7" width="17.2" height="17.2" fill="none" stroke="#ff0000" stroke-width="4.2"/>
<path d="M960.8 391.2V433.2M952.4 391.2H969.2M952.4 433.2H969.2" stroke="#ff0000" stroke-width="4.2" fill="none"/>
<rect x="952.2" y="403.6" width="17.2" height="17.2" fill="none" stroke="#ff0000" stroke-width="4.2"/>
<path d="M985.4 390.5V431.5M977 390.5H993.8M977 431.5H993.8" stroke="#ff0000" stroke-width="4.2" fill="none"/>
<rect x="976.8" y="402.4" width="17.2" height="17.2" fill="none" stroke="#ff0000" stroke-width="4.2"/>
<path d="M1011.3 392V432.6M1002.9 392H1019.7M1002.9 432.6H1019.7" stroke="#ff0000" stroke-width="4.2" fill="none"/>
<rect x="1002.7" y="403.7" width="17.2" height="17.2" fill="none" stroke="#ff0000" stroke-width="4.2"/>
<path d="M1036.5 318.4V366.2M1028.1 318.4H1044.9M1028.1 366.2H1044.9" stroke="#ff0000" stroke-width="4.2" fill="none"/>
<rect x="1027.9" y="333.7" width="17.2" height="17.2" fill="none" stroke="#ff0000" stroke-width="4.2"/>
<path d="M1061.6 217.5V272.1M1053.2 217.5H1070M1053.2 272.1H1070" stroke="#ff0000" stroke-width="4.2" fill="none"/>
<rect x="1053" y="236.2" width="17.2" height="17.2" fill="none" stroke="#ff0000" stroke-width="4.2"/>
<path d="M1087.1 178V236M1078.7 178H1095.5M1078.7 236H1095.5" stroke="#ff0000" stroke-width="4.2" fill="none"/>
<rect x="1078.5" y="198.4" width="17.2" height="17.2" fill="none" stroke="#ff0000" stroke-width="4.2"/>
<path d="M1112.3 192.2V249.2M1103.9 192.2H1120.7M1103.9 249.2H1120.7" stroke="#ff0000" stroke-width="4.2" fill="none"/>
<rect x="1103.7" y="212.1" width="17.2" height="17.2" fill="none" stroke="#ff0000" stroke-width="4.2"/>
<path d="M1137.9 296.6V346M1129.5 296.6H1146.3M1129.5 346H1146.3" stroke="#ff0000" stroke-width="4.2" fill="none"/>
<rect x="1129.3" y="312.7" width="17.2" height="17.2" fill="none" stroke="#ff0000" stroke-width="4.2"/>
<path d="M1163.5 382.1V425.1M1155.1 382.1H1171.9M1155.1 425.1H1171.9" stroke="#ff0000" stroke-width="4.2" fill="none"/>
<rect x="1154.9" y="395" width="17.2" height="17.2" fill="none" stroke="#ff0000" stroke-width="4.2"/>
<path d="M1189.3 433.5V474.5M1180.9 433.5H1197.7M1180.9 474.5H1197.7" stroke="#ff0000" stroke-width="4.2" fill="none"/>
<rect x="1180.7" y="445.4" width="17.2" height="17.2" fill="none" stroke="#ff0000" stroke-width="4.2"/>
<path d="M1214.8 475.1V508.1M1206.4 475.1H1223.2M1206.4 508.1H1223.2" stroke="#ff0000" stroke-width="4.2" fill="none"/>
<rect x="1206.2" y="483" width="17.2" height="17.2" fill="none" stroke="#ff0000" stroke-width="4.2"/>
<path d="M1240.8 466.2V498.2M1232.4 466.2H1249.2M1232.4 498.2H1249.2" stroke="#ff0000" stroke-width="4.2" fill="none"/>
<rect x="1232.2" y="473.6" width="17.2" height="17.2" fill="none" stroke="#ff0000" stroke-width="4.2"/>
<path d="M1266.7 472.3V506.3M1258.3 472.3H1275.1M1258.3 506.3H1275.1" stroke="#ff0000" stroke-width="4.2" fill="none"/>
<rect x="1258.1" y="480.7" width="17.2" height="17.2" fill="none" stroke="#ff0000" stroke-width="4.2"/>
<path d="M1292.5 414.6V454.6M1284.1 414.6H1300.9M1284.1 454.6H1300.9" stroke="#ff0000" stroke-width="4.2" fill="none"/>
<rect x="1283.9" y="426" width="17.2" height="17.2" fill="none" stroke="#ff0000" stroke-width="4.2"/>
<path d="M1317.8 425V465M1309.4 425H1326.2M1309.4 465H1326.2" stroke="#ff0000" stroke-width="4.2" fill="none"/>
<rect x="1309.2" y="436.4" width="17.2" height="17.2" fill="none" stroke="#ff0000" stroke-width="4.2"/>
<path d="M811.9 438.9V475.7M803.1 438.9H820.7M803.1 475.7H820.7" stroke="#000000" stroke-width="4.2" fill="none"/>
<circle cx="811.9" cy="457.3" r="8.4" fill="none" stroke="#000000" stroke-width="4.2"/>
<path d="M836.1 469.5V502.5M827.3 469.5H844.9M827.3 502.5H844.9" stroke="#000000" stroke-width="4.2" fill="none"/>
<circle cx="836.1" cy="486" r="8.4" fill="none" stroke="#000000" stroke-width="4.2"/>
<path d="M861 447.8V483.2M852.2 447.8H869.8M852.2 483.2H869.8" stroke="#000000" stroke-width="4.2" fill="none"/>
<circle cx="861" cy="465.5" r="8.4" fill="none" stroke="#000000" stroke-width="4.2"/>
<path d="M885.6 443.5V479.3M876.8 443.5H894.4M876.8 479.3H894.4" stroke="#000000" stroke-width="4.2" fill="none"/>
<circle cx="885.6" cy="461.4" r="8.4" fill="none" stroke="#000000" stroke-width="4.2"/>
<path d="M910.9 447.9V483.3M902.1 447.9H919.7M902.1 483.3H919.7" stroke="#000000" stroke-width="4.2" fill="none"/>
<circle cx="910.9" cy="465.6" r="8.4" fill="none" stroke="#000000" stroke-width="4.2"/>
<path d="M935.5 461.5V495.5M926.7 461.5H944.3M926.7 495.5H944.3" stroke="#000000" stroke-width="4.2" fill="none"/>
<circle cx="935.5" cy="478.5" r="8.4" fill="none" stroke="#000000" stroke-width="4.2"/>
<path d="M960.8 397.9V438.9M952 397.9H969.6M952 438.9H969.6" stroke="#000000" stroke-width="4.2" fill="none"/>
<circle cx="960.8" cy="418.4" r="8.4" fill="none" stroke="#000000" stroke-width="4.2"/>
<path d="M985.4 431.7V469.7M976.6 431.7H994.2M976.6 469.7H994.2" stroke="#000000" stroke-width="4.2" fill="none"/>
<circle cx="985.4" cy="450.7" r="8.4" fill="none" stroke="#000000" stroke-width="4.2"/>
<path d="M1011.3 426.7V465.7M1002.5 426.7H1020.1M1002.5 465.7H1020.1" stroke="#000000" stroke-width="4.2" fill="none"/>
<circle cx="1011.3" cy="446.2" r="8.4" fill="none" stroke="#000000" stroke-width="4.2"/>
<path d="M1036.5 397.9V438.9M1027.7 397.9H1045.3M1027.7 438.9H1045.3" stroke="#000000" stroke-width="4.2" fill="none"/>
<circle cx="1036.5" cy="418.4" r="8.4" fill="none" stroke="#000000" stroke-width="4.2"/>
<path d="M1061.6 366.9V410.9M1052.8 366.9H1070.4M1052.8 410.9H1070.4" stroke="#000000" stroke-width="4.2" fill="none"/>
<circle cx="1061.6" cy="388.9" r="8.4" fill="none" stroke="#000000" stroke-width="4.2"/>
<path d="M1087.1 271V322.2M1078.3 271H1095.9M1078.3 322.2H1095.9" stroke="#000000" stroke-width="4.2" fill="none"/>
<circle cx="1087.1" cy="296.6" r="8.4" fill="none" stroke="#000000" stroke-width="4.2"/>
<path d="M1112.3 321.2V369.2M1103.5 321.2H1121.1M1103.5 369.2H1121.1" stroke="#000000" stroke-width="4.2" fill="none"/>
<circle cx="1112.3" cy="345.2" r="8.4" fill="none" stroke="#000000" stroke-width="4.2"/>
<path d="M1137.9 354.7V399.3M1129.1 354.7H1146.7M1129.1 399.3H1146.7" stroke="#000000" stroke-width="4.2" fill="none"/>
<circle cx="1137.9" cy="377" r="8.4" fill="none" stroke="#000000" stroke-width="4.2"/>
<path d="M1163.5 439.6V477.2M1154.7 439.6H1172.3M1154.7 477.2H1172.3" stroke="#000000" stroke-width="4.2" fill="none"/>
<circle cx="1163.5" cy="458.4" r="8.4" fill="none" stroke="#000000" stroke-width="4.2"/>
<path d="M1189.3 409.7V450.1M1180.5 409.7H1198.1M1180.5 450.1H1198.1" stroke="#000000" stroke-width="4.2" fill="none"/>
<circle cx="1189.3" cy="429.9" r="8.4" fill="none" stroke="#000000" stroke-width="4.2"/>
<path d="M1214.8 451V487.8M1206 451H1223.6M1206 487.8H1223.6" stroke="#000000" stroke-width="4.2" fill="none"/>
<circle cx="1214.8" cy="469.4" r="8.4" fill="none" stroke="#000000" stroke-width="4.2"/>
<path d="M1240.8 458.5V495.9M1232 458.5H1249.6M1232 495.9H1249.6" stroke="#000000" stroke-width="4.2" fill="none"/>
<circle cx="1240.8" cy="477.2" r="8.4" fill="none" stroke="#000000" stroke-width="4.2"/>
<path d="M1266.7 447.1V484.1M1257.9 447.1H1275.5M1257.9 484.1H1275.5" stroke="#000000" stroke-width="4.2" fill="none"/>
<circle cx="1266.7" cy="465.6" r="8.4" fill="none" stroke="#000000" stroke-width="4.2"/>
<path d="M1292.5 459.8V495.4M1283.7 459.8H1301.3M1283.7 495.4H1301.3" stroke="#000000" stroke-width="4.2" fill="none"/>
<circle cx="1292.5" cy="477.6" r="8.4" fill="none" stroke="#000000" stroke-width="4.2"/>
<path d="M1317.8 458V494M1309 458H1326.6M1309 494H1326.6" stroke="#000000" stroke-width="4.2" fill="none"/>
<circle cx="1317.8" cy="476" r="8.4" fill="none" stroke="#000000" stroke-width="4.2"/><rect x="805.1" y="463.4" width="508.5" height="5.4" fill="#00ffff"/>
</g>
<path d="M974.6 630.4V608.9M974.6 122.1V143.6M1144.1 630.4V608.9M1144.1 122.1V143.6M805.1 630.4H827.9M1313.6 630.4H1290.8M805.1 206.8H827.9M1313.6 206.8H1290.8M805.1 588H816.5M1313.6 588H1302.2M805.1 545.7H816.5M1313.6 545.7H1302.2M805.1 503.3H816.5M1313.6 503.3H1302.2M805.1 461H816.5M1313.6 461H1302.2M805.1 418.6H816.5M1313.6 418.6H1302.2M805.1 376.2H816.5M1313.6 376.2H1302.2M805.1 333.9H816.5M1313.6 333.9H1302.2M805.1 291.5H816.5M1313.6 291.5H1302.2M805.1 249.2H816.5M1313.6 249.2H1302.2M805.1 164.4H816.5M1313.6 164.4H1302.2" stroke="#000" stroke-width="5.8" fill="none"/>
<rect x="805.1" y="122.1" width="508.5" height="508.3" fill="none" stroke="#000" stroke-width="5.8" stroke-linejoin="bevel"/>

<clipPath id="cBL"><rect x="172.1" y="755.4" width="508.2" height="508.3"/></clipPath>
<g clip-path="url(#cBL)">
<path d="M168 1242V1258M161 1242H175M161 1258H175" stroke="#0000ff" stroke-width="4.2" fill="none"/>
<path d="M155.4 1250L168 1237.4L180.6 1250L168 1262.6Z" fill="#0000ff"/>
<path d="M185 1239V1255M178 1239H192M178 1255H192" stroke="#0000ff" stroke-width="4.2" fill="none"/>
<path d="M172.4 1247L185 1234.4L197.6 1247L185 1259.6Z" fill="#0000ff"/>
<path d="M201.9 1237V1253M194.9 1237H208.9M194.9 1253H208.9" stroke="#0000ff" stroke-width="4.2" fill="none"/>
<path d="M189.3 1245L201.9 1232.4L214.5 1245L201.9 1257.6Z" fill="#0000ff"/>
<path d="M218.5 1235V1251M211.5 1235H225.5M211.5 1251H225.5" stroke="#0000ff" stroke-width="4.2" fill="none"/>
<path d="M205.9 1243L218.5 1230.4L231.1 1243L218.5 1255.6Z" fill="#0000ff"/>
<path d="M235.4 1227V1243M228.4 1227H242.4M228.4 1243H242.4" stroke="#0000ff" stroke-width="4.2" fill="none"/>
<path d="M222.8 1235L235.4 1222.4L248 1235L235.4 1247.6Z" fill="#0000ff"/>
<path d="M252.4 1232V1248M245.4 1232H259.4M245.4 1248H259.4" stroke="#0000ff" stroke-width="4.2" fill="none"/>
<path d="M239.8 1240L252.4 1227.4L265 1240L252.4 1252.6Z" fill="#0000ff"/>
<path d="M269.2 1229V1245M262.2 1229H276.2M262.2 1245H276.2" stroke="#0000ff" stroke-width="4.2" fill="none"/>
<path d="M256.6 1237L269.2 1224.4L281.8 1237L269.2 1249.6Z" fill="#0000ff"/>
<path d="M285.9 1232V1248M278.9 1232H292.9M278.9 1248H292.9" stroke="#0000ff" stroke-width="4.2" fill="none"/>
<path d="M273.3 1240L285.9 1227.4L298.5 1240L285.9 1252.6Z" fill="#0000ff"/>
<path d="M302.8 1230V1246M295.8 1230H309.8M295.8 1246H309.8" stroke="#0000ff" stroke-width="4.2" fill="none"/>
<path d="M290.2 1238L302.8 1225.4L315.4 1238L302.8 1250.6Z" fill="#0000ff"/>
<path d="M319.8 1224V1240M312.8 1224H326.8M312.8 1240H326.8" stroke="#0000ff" stroke-width="4.2" fill="none"/>
<path d="M307.2 1232L319.8 1219.4L332.4 1232L319.8 1244.6Z" fill="#0000ff"/>
<path d="M336.9 1222V1238M329.9 1222H343.9M329.9 1238H343.9" stroke="#0000ff" stroke-width="4.2" fill="none"/>
<path d="M324.3 1230L336.9 1217.4L349.5 1230L336.9 1242.6Z" fill="#0000ff"/>
<path d="M353.9 1208V1226M346.9 1208H360.9M346.9 1226H360.9" stroke="#0000ff" stroke-width="4.2" fill="none"/>
<path d="M341.3 1217L353.9 1204.4L366.5 1217L353.9 1229.6Z" fill="#0000ff"/>
<path d="M370.8 1213V1231M363.8 1213H377.8M363.8 1231H377.8" stroke="#0000ff" stroke-width="4.2" fill="none"/>
<path d="M358.2 1222L370.8 1209.4L383.4 1222L370.8 1234.6Z" fill="#0000ff"/>
<path d="M388.1 1198.4V1219.6M381.1 1198.4H395.1M381.1 1219.6H395.1" stroke="#0000ff" stroke-width="4.2" fill="none"/>
<path d="M375.5 1209L388.1 1196.4L400.7 1209L388.1 1221.6Z" fill="#0000ff"/>
<path d="M405.2 1122.5V1153.9M398.2 1122.5H412.2M398.2 1153.9H412.2" stroke="#0000ff" stroke-width="4.2" fill="none"/>
<path d="M392.6 1138.2L405.2 1125.6L417.8 1138.2L405.2 1150.8Z" fill="#0000ff"/>
<path d="M422.3 1075.1V1111.1M415.3 1075.1H429.3M415.3 1111.1H429.3" stroke="#0000ff" stroke-width="4.2" fill="none"/>
<path d="M409.7 1093.1L422.3 1080.5L434.9 1093.1L422.3 1105.7Z" fill="#0000ff"/>
<path d="M439.3 972.8V1018.8M432.3 972.8H446.3M432.3 1018.8H446.3" stroke="#0000ff" stroke-width="4.2" fill="none"/>
<path d="M426.7 995.8L439.3 983.2L451.9 995.8L439.3 1008.4Z" fill="#0000ff"/>
<path d="M456.6 883.5V936.1M449.6 883.5H463.6M449.6 936.1H463.6" stroke="#0000ff" stroke-width="4.2" fill="none"/>
<path d="M444 909.8L456.6 897.2L469.2 909.8L456.6 922.4Z" fill="#0000ff"/>
<path d="M473.3 995.7V1039.7M466.3 995.7H480.3M466.3 1039.7H480.3" stroke="#0000ff" stroke-width="4.2" fill="none"/>
<path d="M460.7 1017.7L473.3 1005.1L485.9 1017.7L473.3 1030.3Z" fill="#0000ff"/>
<path d="M490.8 1168.8V1194.8M483.8 1168.8H497.8M483.8 1194.8H497.8" stroke="#0000ff" stroke-width="4.2" fill="none"/>
<path d="M478.2 1181.8L490.8 1169.2L503.4 1181.8L490.8 1194.4Z" fill="#0000ff"/>
<path d="M507.8 1213V1231M500.8 1213H514.8M500.8 1231H514.8" stroke="#0000ff" stroke-width="4.2" fill="none"/>
<path d="M495.2 1222L507.8 1209.4L520.4 1222L507.8 1234.6Z" fill="#0000ff"/>
<path d="M524.7 1238V1256M517.7 1238H531.7M517.7 1256H531.7" stroke="#0000ff" stroke-width="4.2" fill="none"/>
<path d="M512.1 1247L524.7 1234.4L537.3 1247L524.7 1259.6Z" fill="#0000ff"/>
<path d="M542.1 1225V1243M535.1 1225H549.1M535.1 1243H549.1" stroke="#0000ff" stroke-width="4.2" fill="none"/>
<path d="M529.5 1234L542.1 1221.4L554.7 1234L542.1 1246.6Z" fill="#0000ff"/>
<path d="M559.1 1223V1241M552.1 1223H566.1M552.1 1241H566.1" stroke="#0000ff" stroke-width="4.2" fill="none"/>
<path d="M546.5 1232L559.1 1219.4L571.7 1232L559.1 1244.6Z" fill="#0000ff"/>
<path d="M576.5 1241V1259M569.5 1241H583.5M569.5 1259H583.5" stroke="#0000ff" stroke-width="4.2" fill="none"/>
<path d="M563.9 1250L576.5 1237.4L589.1 1250L576.5 1262.6Z" fill="#0000ff"/>
<path d="M593.9 1241V1259M586.9 1241H600.9M586.9 1259H600.9" stroke="#0000ff" stroke-width="4.2" fill="none"/>
<path d="M581.3 1250L593.9 1237.4L606.5 1250L593.9 1262.6Z" fill="#0000ff"/>
<path d="M611.5 1231V1249M604.5 1231H618.5M604.5 1249H618.5" stroke="#0000ff" stroke-width="4.2" fill="none"/>
<path d="M598.9 1240L611.5 1227.4L624.1 1240L611.5 1252.6Z" fill="#0000ff"/>
<path d="M628.7 1253V1271M621.7 1253H635.7M621.7 1271H635.7" stroke="#0000ff" stroke-width="4.2" fill="none"/>
<path d="M616.1 1262L628.7 1249.4L641.3 1262L628.7 1274.6Z" fill="#0000ff"/>
<path d="M646.3 1253V1271M639.3 1253H653.3M639.3 1271H653.3" stroke="#0000ff" stroke-width="4.2" fill="none"/>
<path d="M633.7 1262L646.3 1249.4L658.9 1262L646.3 1274.6Z" fill="#0000ff"/>
<path d="M663.5 1217.3V1236.1M656.5 1217.3H670.5M656.5 1236.1H670.5" stroke="#0000ff" stroke-width="4.2" fill="none"/>
<path d="M650.9 1226.7L663.5 1214.1L676.1 1226.7L663.5 1239.3Z" fill="#0000ff"/>
<path d="M680.5 1233V1251M673.5 1233H687.5M673.5 1251H687.5" stroke="#0000ff" stroke-width="4.2" fill="none"/>
<path d="M667.9 1242L680.5 1229.4L693.1 1242L680.5 1254.6Z" fill="#0000ff"/>
<path d="M168 1240V1256M159 1240H177M159 1256H177" stroke="#008000" stroke-width="4.2" fill="none"/>
<path d="M155.5 1255.2L168 1233.6L180.5 1255.2Z" fill="#008000"/>
<path d="M185 1237V1253M176 1237H194M176 1253H194" stroke="#008000" stroke-width="4.2" fill="none"/>
<path d="M172.5 1252.2L185 1230.6L197.5 1252.2Z" fill="#008000"/>
<path d="M201.9 1235V1251M192.9 1235H210.9M192.9 1251H210.9" stroke="#008000" stroke-width="4.2" fill="none"/>
<path d="M189.4 1250.2L201.9 1228.6L214.4 1250.2Z" fill="#008000"/>
<path d="M218.5 1236V1252M209.5 1236H227.5M209.5 1252H227.5" stroke="#008000" stroke-width="4.2" fill="none"/>
<path d="M206 1251.2L218.5 1229.6L231 1251.2Z" fill="#008000"/>
<path d="M235.4 1232V1248M226.4 1232H244.4M226.4 1248H244.4" stroke="#008000" stroke-width="4.2" fill="none"/>
<path d="M222.9 1247.2L235.4 1225.6L247.9 1247.2Z" fill="#008000"/>
<path d="M252.4 1236V1252M243.4 1236H261.4M243.4 1252H261.4" stroke="#008000" stroke-width="4.2" fill="none"/>
<path d="M239.9 1251.2L252.4 1229.6L264.9 1251.2Z" fill="#008000"/>
<path d="M269.2 1234V1250M260.2 1234H278.2M260.2 1250H278.2" stroke="#008000" stroke-width="4.2" fill="none"/>
<path d="M256.7 1249.2L269.2 1227.6L281.7 1249.2Z" fill="#008000"/>
<path d="M285.9 1244V1260M276.9 1244H294.9M276.9 1260H294.9" stroke="#008000" stroke-width="4.2" fill="none"/>
<path d="M273.4 1259.2L285.9 1237.6L298.4 1259.2Z" fill="#008000"/>
<path d="M302.8 1240V1256M293.8 1240H311.8M293.8 1256H311.8" stroke="#008000" stroke-width="4.2" fill="none"/>
<path d="M290.3 1255.2L302.8 1233.6L315.3 1255.2Z" fill="#008000"/>
<path d="M319.8 1236V1252M310.8 1236H328.8M310.8 1252H328.8" stroke="#008000" stroke-width="4.2" fill="none"/>
<path d="M307.3 1251.2L319.8 1229.6L332.3 1251.2Z" fill="#008000"/>
<path d="M336.9 1237V1253M327.9 1237H345.9M327.9 1253H345.9" stroke="#008000" stroke-width="4.2" fill="none"/>
<path d="M324.4 1252.2L336.9 1230.6L349.4 1252.2Z" fill="#008000"/>
<path d="M353.9 1230V1246M344.9 1230H362.9M344.9 1246H362.9" stroke="#008000" stroke-width="4.2" fill="none"/>
<path d="M341.4 1245.2L353.9 1223.6L366.4 1245.2Z" fill="#008000"/>
<path d="M370.8 1228V1244M361.8 1228H379.8M361.8 1244H379.8" stroke="#008000" stroke-width="4.2" fill="none"/>
<path d="M358.3 1243.2L370.8 1221.6L383.3 1243.2Z" fill="#008000"/>
<path d="M388.1 1222V1238M379.1 1222H397.1M379.1 1238H397.1" stroke="#008000" stroke-width="4.2" fill="none"/>
<path d="M375.6 1237.2L388.1 1215.6L400.6 1237.2Z" fill="#008000"/>
<path d="M405.2 1237V1253M396.2 1237H414.2M396.2 1253H414.2" stroke="#008000" stroke-width="4.2" fill="none"/>
<path d="M392.7 1252.2L405.2 1230.6L417.7 1252.2Z" fill="#008000"/>
<path d="M422.3 1230V1246M413.3 1230H431.3M413.3 1246H431.3" stroke="#008000" stroke-width="4.2" fill="none"/>
<path d="M409.8 1245.2L422.3 1223.6L434.8 1245.2Z" fill="#008000"/>
<path d="M439.3 1226V1242M430.3 1226H448.3M430.3 1242H448.3" stroke="#008000" stroke-width="4.2" fill="none"/>
<path d="M426.8 1241.2L439.3 1219.6L451.8 1241.2Z" fill="#008000"/>
<path d="M456.6 1225V1241M447.6 1225H465.6M447.6 1241H465.6" stroke="#008000" stroke-width="4.2" fill="none"/>
<path d="M444.1 1240.2L456.6 1218.6L469.1 1240.2Z" fill="#008000"/>
<path d="M473.3 1233V1249M464.3 1233H482.3M464.3 1249H482.3" stroke="#008000" stroke-width="4.2" fill="none"/>
<path d="M460.8 1248.2L473.3 1226.6L485.8 1248.2Z" fill="#008000"/>
<path d="M490.8 1240V1256M481.8 1240H499.8M481.8 1256H499.8" stroke="#008000" stroke-width="4.2" fill="none"/>
<path d="M478.3 1255.2L490.8 1233.6L503.3 1255.2Z" fill="#008000"/>
<path d="M507.8 1248V1264M498.8 1248H516.8M498.8 1264H516.8" stroke="#008000" stroke-width="4.2" fill="none"/>
<path d="M495.3 1263.2L507.8 1241.6L520.3 1263.2Z" fill="#008000"/>
<path d="M524.7 1244V1260M515.7 1244H533.7M515.7 1260H533.7" stroke="#008000" stroke-width="4.2" fill="none"/>
<path d="M512.2 1259.2L524.7 1237.6L537.2 1259.2Z" fill="#008000"/>
<path d="M542.1 1240V1256M533.1 1240H551.1M533.1 1256H551.1" stroke="#008000" stroke-width="4.2" fill="none"/>
<path d="M529.6 1255.2L542.1 1233.6L554.6 1255.2Z" fill="#008000"/>
<path d="M559.1 1236V1252M550.1 1236H568.1M550.1 1252H568.1" stroke="#008000" stroke-width="4.2" fill="none"/>
<path d="M546.6 1251.2L559.1 1229.6L571.6 1251.2Z" fill="#008000"/>
<path d="M576.5 1217V1233M567.5 1217H585.5M567.5 1233H585.5" stroke="#008000" stroke-width="4.2" fill="none"/>
<path d="M564 1232.2L576.5 1210.6L589 1232.2Z" fill="#008000"/>
<path d="M593.9 1228V1244M584.9 1228H602.9M584.9 1244H602.9" stroke="#008000" stroke-width="4.2" fill="none"/>
<path d="M581.4 1243.2L593.9 1221.6L606.4 1243.2Z" fill="#008000"/>
<path d="M611.5 1236V1252M602.5 1236H620.5M602.5 1252H620.5" stroke="#008000" stroke-width="4.2" fill="none"/>
<path d="M599 1251.2L611.5 1229.6L624 1251.2Z" fill="#008000"/>
<path d="M628.7 1232V1248M619.7 1232H637.7M619.7 1248H637.7" stroke="#008000" stroke-width="4.2" fill="none"/>
<path d="M616.2 1247.2L628.7 1225.6L641.2 1247.2Z" fill="#008000"/>
<path d="M646.3 1242V1258M637.3 1242H655.3M637.3 1258H655.3" stroke="#008000" stroke-width="4.2" fill="none"/>
<path d="M633.8 1257.2L646.3 1235.6L658.8 1257.2Z" fill="#008000"/>
<path d="M663.5 1238V1254M654.5 1238H672.5M654.5 1254H672.5" stroke="#008000" stroke-width="4.2" fill="none"/>
<path d="M651 1253.2L663.5 1231.6L676 1253.2Z" fill="#008000"/>
<path d="M680.5 1248V1264M671.5 1248H689.5M671.5 1264H689.5" stroke="#008000" stroke-width="4.2" fill="none"/>
<path d="M668 1263.2L680.5 1241.6L693 1263.2Z" fill="#008000"/>
<path d="M168 1243.7V1252.3M159.6 1243.7H176.4M159.6 1252.3H176.4" stroke="#ff0000" stroke-width="4.2" fill="none"/>
<rect x="159.4" y="1239.4" width="17.2" height="17.2" fill="none" stroke="#ff0000" stroke-width="4.2"/>
<path d="M185 1243.7V1252.3M176.6 1243.7H193.4M176.6 1252.3H193.4" stroke="#ff0000" stroke-width="4.2" fill="none"/>
<rect x="176.4" y="1239.4" width="17.2" height="17.2" fill="none" stroke="#ff0000" stroke-width="4.2"/>
<path d="M201.9 1245.7V1254.3M193.5 1245.7H210.3M193.5 1254.3H210.3" stroke="#ff0000" stroke-width="4.2" fill="none"/>
<rect x="193.3" y="1241.4" width="17.2" height="17.2" fill="none" stroke="#ff0000" stroke-width="4.2"/>
<path d="M218.5 1245.7V1254.3M210.1 1245.7H226.9M210.1 1254.3H226.9" stroke="#ff0000" stroke-width="4.2" fill="none"/>
<rect x="209.9" y="1241.4" width="17.2" height="17.2" fill="none" stroke="#ff0000" stroke-width="4.2"/>
<path d="M235.4 1244.7V1253.3M227 1244.7H243.8M227 1253.3H243.8" stroke="#ff0000" stroke-width="4.2" fill="none"/>
<rect x="226.8" y="1240.4" width="17.2" height="17.2" fill="none" stroke="#ff0000" stroke-width="4.2"/>
<path d="M252.4 1240.7V1249.3M244 1240.7H260.8M244 1249.3H260.8" stroke="#ff0000" stroke-width="4.2" fill="none"/>
<rect x="243.8" y="1236.4" width="17.2" height="17.2" fill="none" stroke="#ff0000" stroke-width="4.2"/>
<path d="M269.2 1240.7V1249.3M260.8 1240.7H277.6M260.8 1249.3H277.6" stroke="#ff0000" stroke-width="4.2" fill="none"/>
<rect x="260.6" y="1236.4" width="17.2" height="17.2" fill="none" stroke="#ff0000" stroke-width="4.2"/>
<path d="M285.9 1241.7V1250.3M277.5 1241.7H294.3M277.5 1250.3H294.3" stroke="#ff0000" stroke-width="4.2" fill="none"/>
<rect x="277.3" y="1237.4" width="17.2" height="17.2" fill="none" stroke="#ff0000" stroke-width="4.2"/>
<path d="M302.8 1240.7V1249.3M294.4 1240.7H311.2M294.4 1249.3H311.2" stroke="#ff0000" stroke-width="4.2" fill="none"/>
<rect x="294.2" y="1236.4" width="17.2" height="17.2" fill="none" stroke="#ff0000" stroke-width="4.2"/>
<path d="M319.8 1242.7V1251.3M311.4 1242.7H328.2M311.4 1251.3H328.2" stroke="#ff0000" stroke-width="4.2" fill="none"/>
<rect x="311.2" y="1238.4" width="17.2" height="17.2" fill="none" stroke="#ff0000" stroke-width="4.2"/>
<path d="M336.9 1245.7V1254.3M328.5 1245.7H345.3M328.5 1254.3H345.3" stroke="#ff0000" stroke-width="4.2" fill="none"/>
<rect x="328.3" y="1241.4" width="17.2" height="17.2" fill="none" stroke="#ff0000" stroke-width="4.2"/>
<path d="M353.9 1245.7V1254.3M345.5 1245.7H362.3M345.5 1254.3H362.3" stroke="#ff0000" stroke-width="4.2" fill="none"/>
<rect x="345.3" y="1241.4" width="17.2" height="17.2" fill="none" stroke="#ff0000" stroke-width="4.2"/>
<path d="M370.8 1240.7V1249.3M362.4 1240.7H379.2M362.4 1249.3H379.2" stroke="#ff0000" stroke-width="4.2" fill="none"/>
<rect x="362.2" y="1236.4" width="17.2" height="17.2" fill="none" stroke="#ff0000" stroke-width="4.2"/>
<path d="M388.1 1242.7V1251.3M379.7 1242.7H396.5M379.7 1251.3H396.5" stroke="#ff0000" stroke-width="4.2" fill="none"/>
<rect x="379.5" y="1238.4" width="17.2" height="17.2" fill="none" stroke="#ff0000" stroke-width="4.2"/>
<path d="M405.2 1241.7V1250.3M396.8 1241.7H413.6M396.8 1250.3H413.6" stroke="#ff0000" stroke-width="4.2" fill="none"/>
<rect x="396.6" y="1237.4" width="17.2" height="17.2" fill="none" stroke="#ff0000" stroke-width="4.2"/>
<path d="M422.3 1239.7V1248.3M413.9 1239.7H430.7M413.9 1248.3H430.7" stroke="#ff0000" stroke-width="4.2" fill="none"/>
<rect x="413.7" y="1235.4" width="17.2" height="17.2" fill="none" stroke="#ff0000" stroke-width="4.2"/>
<path d="M439.3 1239.7V1248.3M430.9 1239.7H447.7M430.9 1248.3H447.7" stroke="#ff0000" stroke-width="4.2" fill="none"/>
<rect x="430.7" y="1235.4" width="17.2" height="17.2" fill="none" stroke="#ff0000" stroke-width="4.2"/>
<path d="M456.6 1236.7V1245.3M448.2 1236.7H465M448.2 1245.3H465" stroke="#ff0000" stroke-width="4.2" fill="none"/>
<rect x="448" y="1232.4" width="17.2" height="17.2" fill="none" stroke="#ff0000" stroke-width="4.2"/>
<path d="M473.3 1241.7V1250.3M464.9 1241.7H481.7M464.9 1250.3H481.7" stroke="#ff0000" stroke-width="4.2" fill="none"/>
<rect x="464.7" y="1237.4" width="17.2" height="17.2" fill="none" stroke="#ff0000" stroke-width="4.2"/>
<path d="M490.8 1239.7V1248.3M482.4 1239.7H499.2M482.4 1248.3H499.2" stroke="#ff0000" stroke-width="4.2" fill="none"/>
<rect x="482.2" y="1235.4" width="17.2" height="17.2" fill="none" stroke="#ff0000" stroke-width="4.2"/>
<path d="M507.8 1235.7V1244.3M499.4 1235.7H516.2M499.4 1244.3H516.2" stroke="#ff0000" stroke-width="4.2" fill="none"/>
<rect x="499.2" y="1231.4" width="17.2" height="17.2" fill="none" stroke="#ff0000" stroke-width="4.2"/>
<path d="M524.7 1229.7V1238.3M516.3 1229.7H533.1M516.3 1238.3H533.1" stroke="#ff0000" stroke-width="4.2" fill="none"/>
<rect x="516.1" y="1225.4" width="17.2" height="17.2" fill="none" stroke="#ff0000" stroke-width="4.2"/>
<path d="M542.1 1233.7V1242.3M533.7 1233.7H550.5M533.7 1242.3H550.5" stroke="#ff0000" stroke-width="4.2" fill="none"/>
<rect x="533.5" y="1229.4" width="17.2" height="17.2" fill="none" stroke="#ff0000" stroke-width="4.2"/>
<path d="M559.1 1243.7V1252.3M550.7 1243.7H567.5M550.7 1252.3H567.5" stroke="#ff0000" stroke-width="4.2" fill="none"/>
<rect x="550.5" y="1239.4" width="17.2" height="17.2" fill="none" stroke="#ff0000" stroke-width="4.2"/>
<path d="M576.5 1242.7V1251.3M568.1 1242.7H584.9M568.1 1251.3H584.9" stroke="#ff0000" stroke-width="4.2" fill="none"/>
<rect x="567.9" y="1238.4" width="17.2" height="17.2" fill="none" stroke="#ff0000" stroke-width="4.2"/>
<path d="M593.9 1236.7V1245.3M585.5 1236.7H602.3M585.5 1245.3H602.3" stroke="#ff0000" stroke-width="4.2" fill="none"/>
<rect x="585.3" y="1232.4" width="17.2" height="17.2" fill="none" stroke="#ff0000" stroke-width="4.2"/>
<path d="M611.5 1241.7V1250.3M603.1 1241.7H619.9M603.1 1250.3H619.9" stroke="#ff0000" stroke-width="4.2" fill="none"/>
<rect x="602.9" y="1237.4" width="17.2" height="17.2" fill="none" stroke="#ff0000" stroke-width="4.2"/>
<path d="M628.7 1236.7V1245.3M620.3 1236.7H637.1M620.3 1245.3H637.1" stroke="#ff0000" stroke-width="4.2" fill="none"/>
<rect x="620.1" y="1232.4" width="17.2" height="17.2" fill="none" stroke="#ff0000" stroke-width="4.2"/>
<path d="M646.3 1238.7V1247.3M637.9 1238.7H654.7M637.9 1247.3H654.7" stroke="#ff0000" stroke-width="4.2" fill="none"/>
<rect x="637.7" y="1234.4" width="17.2" height="17.2" fill="none" stroke="#ff0000" stroke-width="4.2"/>
<path d="M663.5 1238.7V1247.3M655.1 1238.7H671.9M655.1 1247.3H671.9" stroke="#ff0000" stroke-width="4.2" fill="none"/>
<rect x="654.9" y="1234.4" width="17.2" height="17.2" fill="none" stroke="#ff0000" stroke-width="4.2"/>
<path d="M680.5 1235.7V1244.3M672.1 1235.7H688.9M672.1 1244.3H688.9" stroke="#ff0000" stroke-width="4.2" fill="none"/>
<rect x="671.9" y="1231.4" width="17.2" height="17.2" fill="none" stroke="#ff0000" stroke-width="4.2"/>
<path d="M168 1239.5V1250.5M159.2 1239.5H176.8M159.2 1250.5H176.8" stroke="#000000" stroke-width="4.2" fill="none"/>
<circle cx="168" cy="1245" r="8.4" fill="none" stroke="#000000" stroke-width="4.2"/>
<path d="M185 1238.1V1249.1M176.2 1238.1H193.8M176.2 1249.1H193.8" stroke="#000000" stroke-width="4.2" fill="none"/>
<circle cx="185" cy="1243.6" r="8.4" fill="none" stroke="#000000" stroke-width="4.2"/>
<path d="M201.9 1233.2V1244.2M193.1 1233.2H210.7M193.1 1244.2H210.7" stroke="#000000" stroke-width="4.2" fill="none"/>
<circle cx="201.9" cy="1238.7" r="8.4" fill="none" stroke="#000000" stroke-width="4.2"/>
<path d="M218.5 1235.4V1246.4M209.7 1235.4H227.3M209.7 1246.4H227.3" stroke="#000000" stroke-width="4.2" fill="none"/>
<circle cx="218.5" cy="1240.9" r="8.4" fill="none" stroke="#000000" stroke-width="4.2"/>
<path d="M235.4 1232.3V1243.3M226.6 1232.3H244.2M226.6 1243.3H244.2" stroke="#000000" stroke-width="4.2" fill="none"/>
<circle cx="235.4" cy="1237.8" r="8.4" fill="none" stroke="#000000" stroke-width="4.2"/>
<path d="M252.4 1231V1242M243.6 1231H261.2M243.6 1242H261.2" stroke="#000000" stroke-width="4.2" fill="none"/>
<circle cx="252.4" cy="1236.5" r="8.4" fill="none" stroke="#000000" stroke-width="4.2"/>
<path d="M269.2 1235.4V1246.4M260.4 1235.4H278M260.4 1246.4H278" stroke="#000000" stroke-width="4.2" fill="none"/>
<circle cx="269.2" cy="1240.9" r="8.4" fill="none" stroke="#000000" stroke-width="4.2"/>
<path d="M285.9 1236.5V1247.5M277.1 1236.5H294.7M277.1 1247.5H294.7" stroke="#000000" stroke-width="4.2" fill="none"/>
<circle cx="285.9" cy="1242" r="8.4" fill="none" stroke="#000000" stroke-width="4.2"/>
<path d="M302.8 1225V1236M294 1225H311.6M294 1236H311.6" stroke="#000000" stroke-width="4.2" fill="none"/>
<circle cx="302.8" cy="1230.5" r="8.4" fill="none" stroke="#000000" stroke-width="4.2"/>
<path d="M319.8 1217.4V1228.4M311 1217.4H328.6M311 1228.4H328.6" stroke="#000000" stroke-width="4.2" fill="none"/>
<circle cx="319.8" cy="1222.9" r="8.4" fill="none" stroke="#000000" stroke-width="4.2"/>
<path d="M336.9 1223.8V1234.8M328.1 1223.8H345.7M328.1 1234.8H345.7" stroke="#000000" stroke-width="4.2" fill="none"/>
<circle cx="336.9" cy="1229.3" r="8.4" fill="none" stroke="#000000" stroke-width="4.2"/>
<path d="M353.9 1211.8V1222.8M345.1 1211.8H362.7M345.1 1222.8H362.7" stroke="#000000" stroke-width="4.2" fill="none"/>
<circle cx="353.9" cy="1217.3" r="8.4" fill="none" stroke="#000000" stroke-width="4.2"/>
<path d="M370.8 1184.4V1200.4M362 1184.4H379.6M362 1200.4H379.6" stroke="#000000" stroke-width="4.2" fill="none"/>
<circle cx="370.8" cy="1192.4" r="8.4" fill="none" stroke="#000000" stroke-width="4.2"/>
<path d="M388.1 1184.4V1200.4M379.3 1184.4H396.9M379.3 1200.4H396.9" stroke="#000000" stroke-width="4.2" fill="none"/>
<circle cx="388.1" cy="1192.4" r="8.4" fill="none" stroke="#000000" stroke-width="4.2"/>
<path d="M405.2 1152.8V1172.8M396.4 1152.8H414M396.4 1172.8H414" stroke="#000000" stroke-width="4.2" fill="none"/>
<circle cx="405.2" cy="1162.8" r="8.4" fill="none" stroke="#000000" stroke-width="4.2"/>
<path d="M422.3 1067.3V1094.3M413.5 1067.3H431.1M413.5 1094.3H431.1" stroke="#000000" stroke-width="4.2" fill="none"/>
<circle cx="422.3" cy="1080.8" r="8.4" fill="none" stroke="#000000" stroke-width="4.2"/>
<path d="M439.3 957.3V990.7M430.5 957.3H448.1M430.5 990.7H448.1" stroke="#000000" stroke-width="4.2" fill="none"/>
<circle cx="439.3" cy="974" r="8.4" fill="none" stroke="#000000" stroke-width="4.2"/>
<path d="M456.6 819.4V860M447.8 819.4H465.4M447.8 860H465.4" stroke="#000000" stroke-width="4.2" fill="none"/>
<circle cx="456.6" cy="839.7" r="8.4" fill="none" stroke="#000000" stroke-width="4.2"/>
<path d="M473.3 957.5V990.5M464.5 957.5H482.1M464.5 990.5H482.1" stroke="#000000" stroke-width="4.2" fill="none"/>
<circle cx="473.3" cy="974" r="8.4" fill="none" stroke="#000000" stroke-width="4.2"/>
<path d="M490.8 1172.1V1191.5M482 1172.1H499.6M482 1191.5H499.6" stroke="#000000" stroke-width="4.2" fill="none"/>
<circle cx="490.8" cy="1181.8" r="8.4" fill="none" stroke="#000000" stroke-width="4.2"/>
<path d="M507.8 1219.2V1230.2M499 1219.2H516.6M499 1230.2H516.6" stroke="#000000" stroke-width="4.2" fill="none"/>
<circle cx="507.8" cy="1224.7" r="8.4" fill="none" stroke="#000000" stroke-width="4.2"/>
<path d="M524.7 1225.9V1236.9M515.9 1225.9H533.5M515.9 1236.9H533.5" stroke="#000000" stroke-width="4.2" fill="none"/>
<circle cx="524.7" cy="1231.4" r="8.4" fill="none" stroke="#000000" stroke-width="4.2"/>
<path d="M542.1 1236.2V1247.2M533.3 1236.2H550.9M533.3 1247.2H550.9" stroke="#000000" stroke-width="4.2" fill="none"/>
<circle cx="542.1" cy="1241.7" r="8.4" fill="none" stroke="#000000" stroke-width="4.2"/>
<path d="M559.1 1244.2V1255.2M550.3 1244.2H567.9M550.3 1255.2H567.9" stroke="#000000" stroke-width="4.2" fill="none"/>
<circle cx="559.1" cy="1249.7" r="8.4" fill="none" stroke="#000000" stroke-width="4.2"/>
<path d="M576.5 1241.5V1252.5M567.7 1241.5H585.3M567.7 1252.5H585.3" stroke="#000000" stroke-width="4.2" fill="none"/>
<circle cx="576.5" cy="1247" r="8.4" fill="none" stroke="#000000" stroke-width="4.2"/>
<path d="M593.9 1243.1V1254.1M585.1 1243.1H602.7M585.1 1254.1H602.7" stroke="#000000" stroke-width="4.2" fill="none"/>
<circle cx="593.9" cy="1248.6" r="8.4" fill="none" stroke="#000000" stroke-width="4.2"/>
<path d="M611.5 1239.2V1250.2M602.7 1239.2H620.3M602.7 1250.2H620.3" stroke="#000000" stroke-width="4.2" fill="none"/>
<circle cx="611.5" cy="1244.7" r="8.4" fill="none" stroke="#000000" stroke-width="4.2"/>
<path d="M628.7 1238.4V1249.4M619.9 1238.4H637.5M619.9 1249.4H637.5" stroke="#000000" stroke-width="4.2" fill="none"/>
<circle cx="628.7" cy="1243.9" r="8.4" fill="none" stroke="#000000" stroke-width="4.2"/>
<path d="M646.3 1235.9V1246.9M637.5 1235.9H655.1M637.5 1246.9H655.1" stroke="#000000" stroke-width="4.2" fill="none"/>
<circle cx="646.3" cy="1241.4" r="8.4" fill="none" stroke="#000000" stroke-width="4.2"/>
<path d="M663.5 1231V1242M654.7 1231H672.3M654.7 1242H672.3" stroke="#000000" stroke-width="4.2" fill="none"/>
<circle cx="663.5" cy="1236.5" r="8.4" fill="none" stroke="#000000" stroke-width="4.2"/>
<path d="M680.5 1234.5V1245.5M671.7 1234.5H689.3M671.7 1245.5H689.3" stroke="#000000" stroke-width="4.2" fill="none"/>
<circle cx="680.5" cy="1240" r="8.4" fill="none" stroke="#000000" stroke-width="4.2"/>
</g>
<path d="M341.5 1263.7V1242.2M341.5 755.4V776.9M510.9 1263.7V1242.2M510.9 755.4V776.9M172.1 1263.7H194.9M680.3 1263.7H657.5M172.1 840.1H194.9M680.3 840.1H657.5M172.1 1221.3H183.5M680.3 1221.3H668.9M172.1 1179H183.5M680.3 1179H668.9M172.1 1136.6H183.5M680.3 1136.6H668.9M172.1 1094.3H183.5M680.3 1094.3H668.9M172.1 1051.9H183.5M680.3 1051.9H668.9M172.1 1009.5H183.5M680.3 1009.5H668.9M172.1 967.2H183.5M680.3 967.2H668.9M172.1 924.8H183.5M680.3 924.8H668.9M172.1 882.5H183.5M680.3 882.5H668.9M172.1 797.7H183.5M680.3 797.7H668.9" stroke="#000" stroke-width="5.8" fill="none"/>
<rect x="172.1" y="755.4" width="508.2" height="508.3" fill="none" stroke="#000" stroke-width="5.8" stroke-linejoin="bevel"/>

<clipPath id="cBR"><rect x="805.1" y="755.4" width="508.5" height="508.3"/></clipPath>
<g clip-path="url(#cBR)">
<path d="M827.3 1138.7V1167.7M818.9 1138.7H835.7M818.9 1167.7H835.7" stroke="#ff0000" stroke-width="4.2" fill="none"/>
<rect x="818.7" y="1144.6" width="17.2" height="17.2" fill="none" stroke="#ff0000" stroke-width="4.2"/>
<path d="M858.1 1141.5V1168.9M849.7 1141.5H866.5M849.7 1168.9H866.5" stroke="#ff0000" stroke-width="4.2" fill="none"/>
<rect x="849.5" y="1146.6" width="17.2" height="17.2" fill="none" stroke="#ff0000" stroke-width="4.2"/>
<path d="M888.8 1107.4V1138.6M880.4 1107.4H897.2M880.4 1138.6H897.2" stroke="#ff0000" stroke-width="4.2" fill="none"/>
<rect x="880.2" y="1114.4" width="17.2" height="17.2" fill="none" stroke="#ff0000" stroke-width="4.2"/>
<path d="M919.9 1093.5V1126.5M911.5 1093.5H928.3M911.5 1126.5H928.3" stroke="#ff0000" stroke-width="4.2" fill="none"/>
<rect x="911.3" y="1101.4" width="17.2" height="17.2" fill="none" stroke="#ff0000" stroke-width="4.2"/>
<path d="M950.6 1088.2V1121.6M942.2 1088.2H959M942.2 1121.6H959" stroke="#ff0000" stroke-width="4.2" fill="none"/>
<rect x="942" y="1096.3" width="17.2" height="17.2" fill="none" stroke="#ff0000" stroke-width="4.2"/>
<path d="M981.7 1104.8V1136M973.3 1104.8H990.1M973.3 1136H990.1" stroke="#ff0000" stroke-width="4.2" fill="none"/>
<rect x="973.1" y="1111.8" width="17.2" height="17.2" fill="none" stroke="#ff0000" stroke-width="4.2"/>
<path d="M1013 1067.2V1102M1004.6 1067.2H1021.4M1004.6 1102H1021.4" stroke="#ff0000" stroke-width="4.2" fill="none"/>
<rect x="1004.4" y="1076" width="17.2" height="17.2" fill="none" stroke="#ff0000" stroke-width="4.2"/>
<path d="M1044.4 1024V1063.8M1036 1024H1052.8M1036 1063.8H1052.8" stroke="#ff0000" stroke-width="4.2" fill="none"/>
<rect x="1035.8" y="1035.3" width="17.2" height="17.2" fill="none" stroke="#ff0000" stroke-width="4.2"/>
<path d="M1075.4 1006.7V1048.1M1067 1006.7H1083.8M1067 1048.1H1083.8" stroke="#ff0000" stroke-width="4.2" fill="none"/>
<rect x="1066.8" y="1018.8" width="17.2" height="17.2" fill="none" stroke="#ff0000" stroke-width="4.2"/>
<path d="M1106.8 920V968M1098.4 920H1115.2M1098.4 968H1115.2" stroke="#ff0000" stroke-width="4.2" fill="none"/>
<rect x="1098.2" y="935.4" width="17.2" height="17.2" fill="none" stroke="#ff0000" stroke-width="4.2"/>
<path d="M1138.3 812.3V867.9M1129.9 812.3H1146.7M1129.9 867.9H1146.7" stroke="#ff0000" stroke-width="4.2" fill="none"/>
<rect x="1129.7" y="831.5" width="17.2" height="17.2" fill="none" stroke="#ff0000" stroke-width="4.2"/>
<path d="M1169.8 855.4V909.4M1161.4 855.4H1178.2M1161.4 909.4H1178.2" stroke="#ff0000" stroke-width="4.2" fill="none"/>
<rect x="1161.2" y="873.8" width="17.2" height="17.2" fill="none" stroke="#ff0000" stroke-width="4.2"/>
<path d="M1201.3 915.5V964.9M1192.9 915.5H1209.7M1192.9 964.9H1209.7" stroke="#ff0000" stroke-width="4.2" fill="none"/>
<rect x="1192.7" y="931.6" width="17.2" height="17.2" fill="none" stroke="#ff0000" stroke-width="4.2"/>
<path d="M1233.1 1081.2V1116.6M1224.7 1081.2H1241.5M1224.7 1116.6H1241.5" stroke="#ff0000" stroke-width="4.2" fill="none"/>
<rect x="1224.5" y="1090.3" width="17.2" height="17.2" fill="none" stroke="#ff0000" stroke-width="4.2"/>
<path d="M1265 1042.4V1081.6M1256.6 1042.4H1273.4M1256.6 1081.6H1273.4" stroke="#ff0000" stroke-width="4.2" fill="none"/>
<rect x="1256.4" y="1053.4" width="17.2" height="17.2" fill="none" stroke="#ff0000" stroke-width="4.2"/>
<path d="M1296.9 1030.5V1070.5M1288.5 1030.5H1305.3M1288.5 1070.5H1305.3" stroke="#ff0000" stroke-width="4.2" fill="none"/>
<rect x="1288.3" y="1041.9" width="17.2" height="17.2" fill="none" stroke="#ff0000" stroke-width="4.2"/>
<path d="M827.3 1117V1147.6M818.5 1117H836.1M818.5 1147.6H836.1" stroke="#000000" stroke-width="4.2" fill="none"/>
<circle cx="827.3" cy="1132.3" r="8.4" fill="none" stroke="#000000" stroke-width="4.2"/>
<path d="M858.1 1097.6V1129.6M849.3 1097.6H866.9M849.3 1129.6H866.9" stroke="#000000" stroke-width="4.2" fill="none"/>
<circle cx="858.1" cy="1113.6" r="8.4" fill="none" stroke="#000000" stroke-width="4.2"/>
<path d="M888.8 1134.4V1162.4M880 1134.4H897.6M880 1162.4H897.6" stroke="#000000" stroke-width="4.2" fill="none"/>
<circle cx="888.8" cy="1148.4" r="8.4" fill="none" stroke="#000000" stroke-width="4.2"/>
<path d="M919.9 1113.4V1144.4M911.1 1113.4H928.7M911.1 1144.4H928.7" stroke="#000000" stroke-width="4.2" fill="none"/>
<circle cx="919.9" cy="1128.9" r="8.4" fill="none" stroke="#000000" stroke-width="4.2"/>
<path d="M950.6 1142.9V1170.9M941.8 1142.9H959.4M941.8 1170.9H959.4" stroke="#000000" stroke-width="4.2" fill="none"/>
<circle cx="950.6" cy="1156.9" r="8.4" fill="none" stroke="#000000" stroke-width="4.2"/>
<path d="M981.7 1086.2V1120.2M972.9 1086.2H990.5M972.9 1120.2H990.5" stroke="#000000" stroke-width="4.2" fill="none"/>
<circle cx="981.7" cy="1103.2" r="8.4" fill="none" stroke="#000000" stroke-width="4.2"/>
<path d="M1013 1091.5V1124.7M1004.2 1091.5H1021.8M1004.2 1124.7H1021.8" stroke="#000000" stroke-width="4.2" fill="none"/>
<circle cx="1013" cy="1108.1" r="8.4" fill="none" stroke="#000000" stroke-width="4.2"/>
<path d="M1044.4 1070.3V1105.7M1035.6 1070.3H1053.2M1035.6 1105.7H1053.2" stroke="#000000" stroke-width="4.2" fill="none"/>
<circle cx="1044.4" cy="1088" r="8.4" fill="none" stroke="#000000" stroke-width="4.2"/>
<path d="M1075.4 1038.6V1077.2M1066.6 1038.6H1084.2M1066.6 1077.2H1084.2" stroke="#000000" stroke-width="4.2" fill="none"/>
<circle cx="1075.4" cy="1057.9" r="8.4" fill="none" stroke="#000000" stroke-width="4.2"/>
<path d="M1106.8 1011.2V1052.8M1098 1011.2H1115.6M1098 1052.8H1115.6" stroke="#000000" stroke-width="4.2" fill="none"/>
<circle cx="1106.8" cy="1032" r="8.4" fill="none" stroke="#000000" stroke-width="4.2"/>
<path d="M1138.3 934.4V981.6M1129.5 934.4H1147.1M1129.5 981.6H1147.1" stroke="#000000" stroke-width="4.2" fill="none"/>
<circle cx="1138.3" cy="958" r="8.4" fill="none" stroke="#000000" stroke-width="4.2"/>
<path d="M1169.8 954.6V1000.6M1161 954.6H1178.6M1161 1000.6H1178.6" stroke="#000000" stroke-width="4.2" fill="none"/>
<circle cx="1169.8" cy="977.6" r="8.4" fill="none" stroke="#000000" stroke-width="4.2"/>
<path d="M1201.3 975.6V1020.6M1192.5 975.6H1210.1M1192.5 1020.6H1210.1" stroke="#000000" stroke-width="4.2" fill="none"/>
<circle cx="1201.3" cy="998.1" r="8.4" fill="none" stroke="#000000" stroke-width="4.2"/>
<path d="M1233.1 1078V1114M1224.3 1078H1241.9M1224.3 1114H1241.9" stroke="#000000" stroke-width="4.2" fill="none"/>
<circle cx="1233.1" cy="1096" r="8.4" fill="none" stroke="#000000" stroke-width="4.2"/>
<path d="M1265 1090.8V1124.8M1256.2 1090.8H1273.8M1256.2 1124.8H1273.8" stroke="#000000" stroke-width="4.2" fill="none"/>
<circle cx="1265" cy="1107.8" r="8.4" fill="none" stroke="#000000" stroke-width="4.2"/>
<path d="M1296.9 1086.6V1121.8M1288.1 1086.6H1305.7M1288.1 1121.8H1305.7" stroke="#000000" stroke-width="4.2" fill="none"/>
<circle cx="1296.9" cy="1104.2" r="8.4" fill="none" stroke="#000000" stroke-width="4.2"/>
</g>
<path d="M974.6 1263.7V1242.2M974.6 755.4V776.9M1144.1 1263.7V1242.2M1144.1 755.4V776.9M805.1 1263.7H827.9M1313.6 1263.7H1290.8M805.1 840.1H827.9M1313.6 840.1H1290.8M805.1 1221.3H816.5M1313.6 1221.3H1302.2M805.1 1179H816.5M1313.6 1179H1302.2M805.1 1136.6H816.5M1313.6 1136.6H1302.2M805.1 1094.3H816.5M1313.6 1094.3H1302.2M805.1 1051.9H816.5M1313.6 1051.9H1302.2M805.1 1009.5H816.5M1313.6 1009.5H1302.2M805.1 967.2H816.5M1313.6 967.2H1302.2M805.1 924.8H816.5M1313.6 924.8H1302.2M805.1 882.5H816.5M1313.6 882.5H1302.2M805.1 797.7H816.5M1313.6 797.7H1302.2" stroke="#000" stroke-width="5.8" fill="none"/>
<rect x="805.1" y="755.4" width="508.5" height="508.3" fill="none" stroke="#000" stroke-width="5.8" stroke-linejoin="bevel"/>

<text transform="translate(124.82 695.40) scale(0.9559 1)" style="font-size:57px;">1.57</text>
<text transform="translate(124.82 1328.80) scale(0.9559 1)" style="font-size:57px;">1.57</text>
<text transform="translate(293.20 695.40) scale(0.9793 1)" style="font-size:57px;">1.59</text>
<text transform="translate(293.20 1328.80) scale(0.9793 1)" style="font-size:57px;">1.59</text>
<text transform="translate(463.24 695.40) scale(0.9330 1)" style="font-size:57px;">1.61</text>
<text transform="translate(463.24 1328.80) scale(0.9330 1)" style="font-size:57px;">1.61</text>
<text transform="translate(615.01 695.40) scale(0.9587 1)" style="font-size:57px;">1.63</text>
<text transform="translate(615.01 1328.80) scale(0.9587 1)" style="font-size:57px;">1.63</text>
<text transform="translate(767.82 695.40) scale(0.9939 1)" style="font-size:57px;">2.3</text>
<text transform="translate(923.04 695.40) scale(0.9865 1)" style="font-size:57px;">2.34</text>
<text transform="translate(1091.98 695.40) scale(1.0074 1)" style="font-size:57px;">2.38</text>
<text transform="translate(1244.18 695.40) scale(1.0074 1)" style="font-size:57px;">2.42</text>
<text transform="translate(753.48 1328.80) scale(1.0074 1)" style="font-size:57px;">2.86</text>
<text transform="translate(936.35 1328.80) scale(1.0152 1)" style="font-size:57px;">2.9</text>
<text transform="translate(1091.91 1328.80) scale(0.9979 1)" style="font-size:57px;">2.94</text>
<text transform="translate(1244.18 1328.80) scale(1.0074 1)" style="font-size:57px;">2.98</text>
<text transform="translate(129.36 650.00) scale(1.0208 1)" style="font-size:57px;">0</text>
<text transform="translate(131.82 226.30) scale(0.7750 1)" style="font-size:57px;">1</text>
<text transform="translate(762.36 650.00) scale(1.0208 1)" style="font-size:57px;">0</text>
<text transform="translate(764.83 226.30) scale(0.7750 1)" style="font-size:57px;">1</text>
<text transform="translate(129.36 1283.30) scale(1.0208 1)" style="font-size:57px;">0</text>
<text transform="translate(131.82 859.60) scale(0.7750 1)" style="font-size:57px;">1</text>
<text transform="translate(762.36 1283.30) scale(1.0208 1)" style="font-size:57px;">0</text>
<text transform="translate(764.83 859.60) scale(0.7750 1)" style="font-size:57px;">1</text>
<text transform="translate(222.15 223.30) scale(1.0500 1)" style="font-size:70px;">(</text>
<text transform="translate(328.40 223.30) scale(1.0500 1)" style="font-size:70px;">)</text>
<text x="253.6" y="187" class="fr" text-anchor="middle">1</text>
<text x="253.6" y="223.7" class="fr" text-anchor="middle">2</text>
<rect x="244.9" y="193" width="17.4" height="1.4" fill="#8a8a8a"/>
<text x="287.2" y="187" class="fr" text-anchor="middle">1</text>
<text x="287.2" y="223.7" class="fr" text-anchor="middle">2</text>
<rect x="278.5" y="193" width="17.4" height="1.4" fill="#8a8a8a"/>
<text x="320.8" y="187" class="fr" text-anchor="middle">5</text>
<text x="320.8" y="223.7" class="fr" text-anchor="middle">2</text>
<rect x="312.1" y="193" width="17.4" height="1.4" fill="#8a8a8a"/>
<text transform="translate(855.15 223.30) scale(1.0500 1)" style="font-size:70px;">(</text>
<text transform="translate(961.40 223.30) scale(1.0500 1)" style="font-size:70px;">)</text>
<text x="886.6" y="187" class="fr" text-anchor="middle">3</text>
<text x="886.6" y="223.7" class="fr" text-anchor="middle">2</text>
<rect x="877.9" y="193" width="17.4" height="1.4" fill="#8a8a8a"/>
<text x="920.2" y="187" class="fr" text-anchor="middle">1</text>
<text x="920.2" y="223.7" class="fr" text-anchor="middle">2</text>
<rect x="911.5" y="193" width="17.4" height="1.4" fill="#8a8a8a"/>
<text x="953.8" y="187" class="fr" text-anchor="middle">7</text>
<text x="953.8" y="223.7" class="fr" text-anchor="middle">2</text>
<rect x="945.1" y="193" width="17.4" height="1.4" fill="#8a8a8a"/>
<text transform="translate(222.15 856.60) scale(1.0500 1)" style="font-size:70px;">(</text>
<text transform="translate(328.40 856.60) scale(1.0500 1)" style="font-size:70px;">)</text>
<text x="253.6" y="820.3" class="fr" text-anchor="middle">1</text>
<text x="253.6" y="857" class="fr" text-anchor="middle">2</text>
<rect x="244.9" y="826.3" width="17.4" height="1.4" fill="#8a8a8a"/>
<rect x="243.5" y="790.9" width="20.2" height="3.3" fill="#000"/>
<text x="287.2" y="820.3" class="fr" text-anchor="middle">1</text>
<text x="287.2" y="857" class="fr" text-anchor="middle">2</text>
<rect x="278.5" y="826.3" width="17.4" height="1.4" fill="#8a8a8a"/>
<rect x="277.1" y="790.9" width="20.2" height="3.3" fill="#000"/>
<text x="320.8" y="820.3" class="fr" text-anchor="middle">5</text>
<text x="320.8" y="857" class="fr" text-anchor="middle">2</text>
<rect x="312.1" y="826.3" width="17.4" height="1.4" fill="#8a8a8a"/>
<text transform="translate(855.15 856.60) scale(1.0500 1)" style="font-size:70px;">(</text>
<text transform="translate(961.40 856.60) scale(1.0500 1)" style="font-size:70px;">)</text>
<text x="886.6" y="820.3" class="fr" text-anchor="middle">3</text>
<text x="886.6" y="857" class="fr" text-anchor="middle">2</text>
<rect x="877.9" y="826.3" width="17.4" height="1.4" fill="#8a8a8a"/>
<text x="920.2" y="820.3" class="fr" text-anchor="middle">1</text>
<text x="920.2" y="857" class="fr" text-anchor="middle">2</text>
<rect x="911.5" y="826.3" width="17.4" height="1.4" fill="#8a8a8a"/>
<text x="953.8" y="820.3" class="fr" text-anchor="middle">9</text>
<text x="953.8" y="857" class="fr" text-anchor="middle">2</text>
<rect x="945.1" y="826.3" width="17.4" height="1.4" fill="#8a8a8a"/>
<text class="ax" transform="translate(39.8 1041.87) rotate(-90) scale(0.9856 1)">Relative intensity (arb. units)</text>
<text class="ax" transform="translate(622.94 1415.5) scale(0.9857 1)"><tspan font-style="italic">Q</tspan> (Å</text>
<rect x="736.8" y="1388.2" width="17.2" height="2.8" fill="#1e1e1e"/>
<text transform="translate(753.84 1397.00) scale(0.8545 1)" style="font-size:33px;fill:#1e1e1e;">1</text>
<text transform="translate(768.06 1415.50) scale(1.1214 1)" style="font-size:57px;fill:#1e1e1e;">)</text>
<path d="M237.9 2.5V52.2M227.1 2.5H248.7M227.1 52.2H248.7" stroke="#000000" stroke-width="4.2" fill="none"/><circle cx="237.9" cy="27.5" r="8.7" fill="none" stroke="#000000" stroke-width="4.2"/>
<path d="M510.8 2.5V52.2M501.8 2.5H519.8M501.8 52.2H519.8" stroke="#0000ff" stroke-width="4.2" fill="none"/><path d="M498 27.5L510.8 14.7L523.6 27.5L510.8 40.3Z" fill="#0000ff"/>
<path d="M783.6 2.5V52.2M772.9 2.5H794.3M772.9 52.2H794.3" stroke="#008000" stroke-width="4.2" fill="none"/><path d="M771.1 34.7L783.6 13.1L796.1 34.7Z" fill="#008000"/>
<path d="M1056.4 2.5V52.2M1045.7 2.5H1067.2M1045.7 52.2H1067.2" stroke="#ff0000" stroke-width="4.2" fill="none"/><rect x="1047.7" y="19" width="17.4" height="17.4" fill="none" stroke="#ff0000" stroke-width="4.2"/>
<text transform="translate(315.55 46.70) scale(0.9757 1)" style="font-size:57px;">0 T</text>
<text transform="translate(588.03 46.70) scale(0.9853 1)" style="font-size:57px;">0.1 T</text>
<text transform="translate(860.63 46.70) scale(0.9862 1)" style="font-size:57px;">0.2 T</text>
<text transform="translate(1133.43 46.70) scale(0.9862 1)" style="font-size:57px;">0.5 T</text>
</svg></body></html>
